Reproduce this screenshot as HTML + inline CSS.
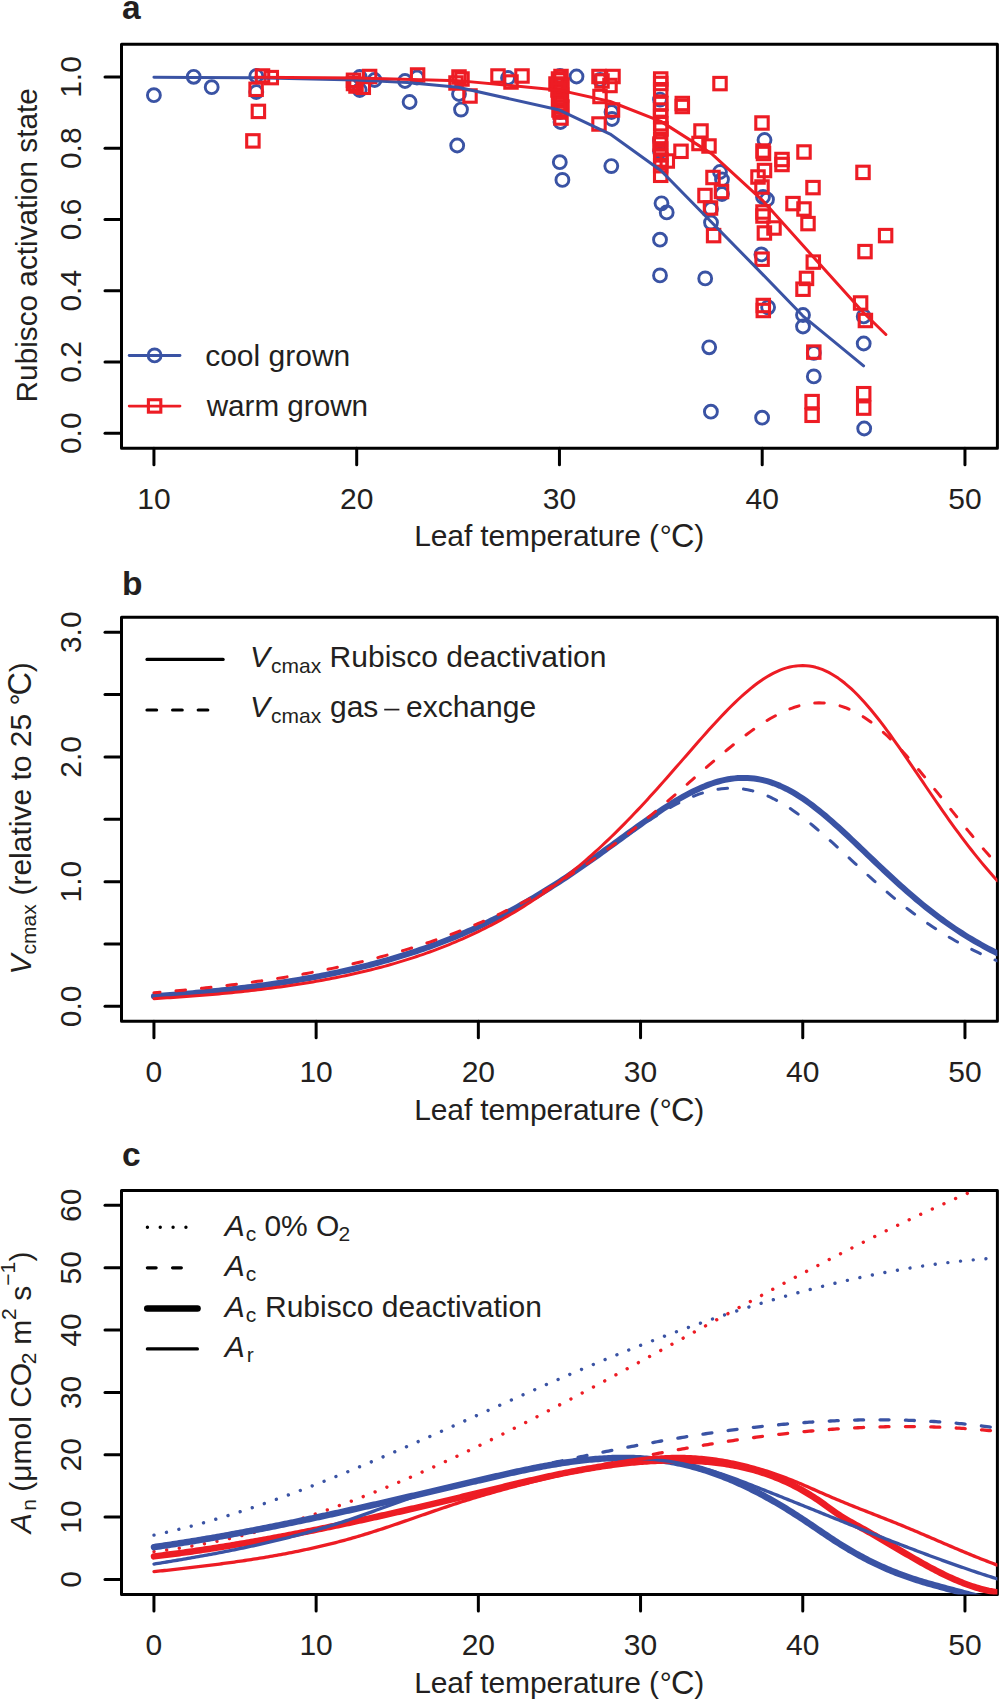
<!DOCTYPE html>
<html><head><meta charset="utf-8"><style>html,body{margin:0;padding:0;background:#fff;}svg{display:block;font-family:"Liberation Sans",sans-serif;}</style></head><body>
<svg width="999" height="1700" viewBox="0 0 999 1700" font-family='&quot;Liberation Sans&quot;, sans-serif'>
<rect width="999" height="1700" fill="#fff"/>
<rect x="121.50" y="44.20" width="875.90" height="404.00" fill="none" stroke="#000" stroke-width="3" stroke-linejoin="round"/>
<line x1="153.94" y1="448.20" x2="153.94" y2="464.70" stroke="#000" stroke-width="3" stroke-linecap="round"/>
<text x="153.94" y="509.20" font-size="30" text-anchor="middle" fill="#231F20" >10</text>
<line x1="356.70" y1="448.20" x2="356.70" y2="464.70" stroke="#000" stroke-width="3" stroke-linecap="round"/>
<text x="356.70" y="509.20" font-size="30" text-anchor="middle" fill="#231F20" >20</text>
<line x1="559.45" y1="448.20" x2="559.45" y2="464.70" stroke="#000" stroke-width="3" stroke-linecap="round"/>
<text x="559.45" y="509.20" font-size="30" text-anchor="middle" fill="#231F20" >30</text>
<line x1="762.20" y1="448.20" x2="762.20" y2="464.70" stroke="#000" stroke-width="3" stroke-linecap="round"/>
<text x="762.20" y="509.20" font-size="30" text-anchor="middle" fill="#231F20" >40</text>
<line x1="964.96" y1="448.20" x2="964.96" y2="464.70" stroke="#000" stroke-width="3" stroke-linecap="round"/>
<text x="964.96" y="509.20" font-size="30" text-anchor="middle" fill="#231F20" >50</text>
<line x1="121.50" y1="433.24" x2="105.00" y2="433.24" stroke="#000" stroke-width="3" stroke-linecap="round"/>
<line x1="121.50" y1="361.98" x2="105.00" y2="361.98" stroke="#000" stroke-width="3" stroke-linecap="round"/>
<line x1="121.50" y1="290.73" x2="105.00" y2="290.73" stroke="#000" stroke-width="3" stroke-linecap="round"/>
<line x1="121.50" y1="219.48" x2="105.00" y2="219.48" stroke="#000" stroke-width="3" stroke-linecap="round"/>
<line x1="121.50" y1="148.23" x2="105.00" y2="148.23" stroke="#000" stroke-width="3" stroke-linecap="round"/>
<line x1="121.50" y1="76.98" x2="105.00" y2="76.98" stroke="#000" stroke-width="3" stroke-linecap="round"/>
<text x="81.00" y="433.24" font-size="30" text-anchor="middle" transform="rotate(-90 81.00 433.24)" fill="#231F20" >0.0</text>
<text x="81.00" y="361.98" font-size="30" text-anchor="middle" transform="rotate(-90 81.00 361.98)" fill="#231F20" >0.2</text>
<text x="81.00" y="290.73" font-size="30" text-anchor="middle" transform="rotate(-90 81.00 290.73)" fill="#231F20" >0.4</text>
<text x="81.00" y="219.48" font-size="30" text-anchor="middle" transform="rotate(-90 81.00 219.48)" fill="#231F20" >0.6</text>
<text x="81.00" y="148.23" font-size="30" text-anchor="middle" transform="rotate(-90 81.00 148.23)" fill="#231F20" >0.8</text>
<text x="81.00" y="76.98" font-size="30" text-anchor="middle" transform="rotate(-90 81.00 76.98)" fill="#231F20" >1.0</text>
<text x="414.20" y="546.40" font-size="30" text-anchor="start" fill="#231F20" textLength="244.8" lengthAdjust="spacing">Leaf temperature (</text>
<text x="659.70" y="546.40" font-size="30" text-anchor="start" fill="#231F20" >°</text>
<text x="671.00" y="547.40" font-size="32.5" text-anchor="start" fill="#231F20" >C</text>
<text x="694.20" y="546.40" font-size="30" text-anchor="start" fill="#231F20" >)</text>
<text x="122.00" y="19.00" font-size="33.5" text-anchor="start" font-weight="bold" fill="#231F20" >a</text>
<text x="37.00" y="245.30" font-size="29.75" text-anchor="middle" transform="rotate(-90 37.00 245.30)" fill="#231F20" >Rubisco activation state</text>
<circle cx="153.90" cy="95.20" r="6.45" fill="none" stroke="#3A53A4" stroke-width="2.9"/>
<circle cx="193.70" cy="76.80" r="6.45" fill="none" stroke="#3A53A4" stroke-width="2.9"/>
<circle cx="211.70" cy="87.20" r="6.45" fill="none" stroke="#3A53A4" stroke-width="2.9"/>
<circle cx="256.30" cy="76.00" r="6.45" fill="none" stroke="#3A53A4" stroke-width="2.9"/>
<circle cx="256.30" cy="92.00" r="6.45" fill="none" stroke="#3A53A4" stroke-width="2.9"/>
<circle cx="417.00" cy="77.50" r="6.45" fill="none" stroke="#3A53A4" stroke-width="2.9"/>
<circle cx="359.70" cy="77.00" r="6.45" fill="none" stroke="#3A53A4" stroke-width="2.9"/>
<circle cx="359.70" cy="90.00" r="6.45" fill="none" stroke="#3A53A4" stroke-width="2.9"/>
<circle cx="374.60" cy="80.00" r="6.45" fill="none" stroke="#3A53A4" stroke-width="2.9"/>
<circle cx="405.00" cy="81.00" r="6.45" fill="none" stroke="#3A53A4" stroke-width="2.9"/>
<circle cx="409.60" cy="102.00" r="6.45" fill="none" stroke="#3A53A4" stroke-width="2.9"/>
<circle cx="459.00" cy="94.00" r="6.45" fill="none" stroke="#3A53A4" stroke-width="2.9"/>
<circle cx="461.00" cy="109.60" r="6.45" fill="none" stroke="#3A53A4" stroke-width="2.9"/>
<circle cx="457.20" cy="145.50" r="6.45" fill="none" stroke="#3A53A4" stroke-width="2.9"/>
<circle cx="508.00" cy="78.00" r="6.45" fill="none" stroke="#3A53A4" stroke-width="2.9"/>
<circle cx="560.00" cy="76.00" r="6.45" fill="none" stroke="#3A53A4" stroke-width="2.9"/>
<circle cx="560.50" cy="122.00" r="6.45" fill="none" stroke="#3A53A4" stroke-width="2.9"/>
<circle cx="559.80" cy="162.20" r="6.45" fill="none" stroke="#3A53A4" stroke-width="2.9"/>
<circle cx="562.40" cy="179.90" r="6.45" fill="none" stroke="#3A53A4" stroke-width="2.9"/>
<circle cx="560.00" cy="100.00" r="6.45" fill="none" stroke="#3A53A4" stroke-width="2.9"/>
<circle cx="560.00" cy="112.00" r="6.45" fill="none" stroke="#3A53A4" stroke-width="2.9"/>
<circle cx="576.50" cy="76.50" r="6.45" fill="none" stroke="#3A53A4" stroke-width="2.9"/>
<circle cx="611.50" cy="112.00" r="6.45" fill="none" stroke="#3A53A4" stroke-width="2.9"/>
<circle cx="612.00" cy="119.00" r="6.45" fill="none" stroke="#3A53A4" stroke-width="2.9"/>
<circle cx="611.30" cy="166.10" r="6.45" fill="none" stroke="#3A53A4" stroke-width="2.9"/>
<circle cx="600.00" cy="80.00" r="6.45" fill="none" stroke="#3A53A4" stroke-width="2.9"/>
<circle cx="660.00" cy="99.60" r="6.45" fill="none" stroke="#3A53A4" stroke-width="2.9"/>
<circle cx="660.00" cy="140.50" r="6.45" fill="none" stroke="#3A53A4" stroke-width="2.9"/>
<circle cx="660.00" cy="151.30" r="6.45" fill="none" stroke="#3A53A4" stroke-width="2.9"/>
<circle cx="661.50" cy="203.30" r="6.45" fill="none" stroke="#3A53A4" stroke-width="2.9"/>
<circle cx="666.70" cy="212.40" r="6.45" fill="none" stroke="#3A53A4" stroke-width="2.9"/>
<circle cx="660.00" cy="239.70" r="6.45" fill="none" stroke="#3A53A4" stroke-width="2.9"/>
<circle cx="660.00" cy="275.40" r="6.45" fill="none" stroke="#3A53A4" stroke-width="2.9"/>
<circle cx="705.20" cy="278.40" r="6.45" fill="none" stroke="#3A53A4" stroke-width="2.9"/>
<circle cx="709.20" cy="347.30" r="6.45" fill="none" stroke="#3A53A4" stroke-width="2.9"/>
<circle cx="710.90" cy="411.70" r="6.45" fill="none" stroke="#3A53A4" stroke-width="2.9"/>
<circle cx="711.00" cy="209.00" r="6.45" fill="none" stroke="#3A53A4" stroke-width="2.9"/>
<circle cx="711.00" cy="222.60" r="6.45" fill="none" stroke="#3A53A4" stroke-width="2.9"/>
<circle cx="720.00" cy="172.00" r="6.45" fill="none" stroke="#3A53A4" stroke-width="2.9"/>
<circle cx="722.00" cy="179.50" r="6.45" fill="none" stroke="#3A53A4" stroke-width="2.9"/>
<circle cx="722.00" cy="194.00" r="6.45" fill="none" stroke="#3A53A4" stroke-width="2.9"/>
<circle cx="764.50" cy="140.00" r="6.45" fill="none" stroke="#3A53A4" stroke-width="2.9"/>
<circle cx="763.00" cy="197.00" r="6.45" fill="none" stroke="#3A53A4" stroke-width="2.9"/>
<circle cx="767.00" cy="199.50" r="6.45" fill="none" stroke="#3A53A4" stroke-width="2.9"/>
<circle cx="761.40" cy="254.40" r="6.45" fill="none" stroke="#3A53A4" stroke-width="2.9"/>
<circle cx="768.10" cy="307.30" r="6.45" fill="none" stroke="#3A53A4" stroke-width="2.9"/>
<circle cx="762.10" cy="417.70" r="6.45" fill="none" stroke="#3A53A4" stroke-width="2.9"/>
<circle cx="803.00" cy="315.00" r="6.45" fill="none" stroke="#3A53A4" stroke-width="2.9"/>
<circle cx="803.00" cy="326.50" r="6.45" fill="none" stroke="#3A53A4" stroke-width="2.9"/>
<circle cx="813.80" cy="352.90" r="6.45" fill="none" stroke="#3A53A4" stroke-width="2.9"/>
<circle cx="813.80" cy="376.40" r="6.45" fill="none" stroke="#3A53A4" stroke-width="2.9"/>
<circle cx="863.70" cy="316.40" r="6.45" fill="none" stroke="#3A53A4" stroke-width="2.9"/>
<circle cx="863.70" cy="343.50" r="6.45" fill="none" stroke="#3A53A4" stroke-width="2.9"/>
<circle cx="864.20" cy="428.50" r="6.45" fill="none" stroke="#3A53A4" stroke-width="2.9"/>
<rect x="246.70" y="134.70" width="12.40" height="12.40" fill="none" stroke="#ED1C24" stroke-width="3.1"/>
<rect x="252.20" y="105.20" width="12.40" height="12.40" fill="none" stroke="#ED1C24" stroke-width="3.1"/>
<rect x="249.90" y="83.10" width="12.40" height="12.40" fill="none" stroke="#ED1C24" stroke-width="3.1"/>
<rect x="256.30" y="69.80" width="12.40" height="12.40" fill="none" stroke="#ED1C24" stroke-width="3.1"/>
<rect x="265.10" y="71.40" width="12.40" height="12.40" fill="none" stroke="#ED1C24" stroke-width="3.1"/>
<rect x="347.30" y="74.10" width="12.40" height="12.40" fill="none" stroke="#ED1C24" stroke-width="3.1"/>
<rect x="347.30" y="77.30" width="12.40" height="12.40" fill="none" stroke="#ED1C24" stroke-width="3.1"/>
<rect x="357.10" y="81.10" width="12.40" height="12.40" fill="none" stroke="#ED1C24" stroke-width="3.1"/>
<rect x="363.40" y="70.30" width="12.40" height="12.40" fill="none" stroke="#ED1C24" stroke-width="3.1"/>
<rect x="349.80" y="79.80" width="12.40" height="12.40" fill="none" stroke="#ED1C24" stroke-width="3.1"/>
<rect x="411.40" y="68.80" width="12.40" height="12.40" fill="none" stroke="#ED1C24" stroke-width="3.1"/>
<rect x="452.80" y="70.80" width="12.40" height="12.40" fill="none" stroke="#ED1C24" stroke-width="3.1"/>
<rect x="449.80" y="76.80" width="12.40" height="12.40" fill="none" stroke="#ED1C24" stroke-width="3.1"/>
<rect x="455.80" y="72.80" width="12.40" height="12.40" fill="none" stroke="#ED1C24" stroke-width="3.1"/>
<rect x="463.80" y="89.80" width="12.40" height="12.40" fill="none" stroke="#ED1C24" stroke-width="3.1"/>
<rect x="491.80" y="69.80" width="12.40" height="12.40" fill="none" stroke="#ED1C24" stroke-width="3.1"/>
<rect x="504.80" y="75.80" width="12.40" height="12.40" fill="none" stroke="#ED1C24" stroke-width="3.1"/>
<rect x="515.80" y="69.80" width="12.40" height="12.40" fill="none" stroke="#ED1C24" stroke-width="3.1"/>
<rect x="554.80" y="70.30" width="12.40" height="12.40" fill="none" stroke="#ED1C24" stroke-width="3.1"/>
<rect x="549.80" y="77.80" width="12.40" height="12.40" fill="none" stroke="#ED1C24" stroke-width="3.1"/>
<rect x="553.80" y="73.80" width="12.40" height="12.40" fill="none" stroke="#ED1C24" stroke-width="3.1"/>
<rect x="553.80" y="81.80" width="12.40" height="12.40" fill="none" stroke="#ED1C24" stroke-width="3.1"/>
<rect x="553.80" y="85.80" width="12.40" height="12.40" fill="none" stroke="#ED1C24" stroke-width="3.1"/>
<rect x="553.80" y="91.80" width="12.40" height="12.40" fill="none" stroke="#ED1C24" stroke-width="3.1"/>
<rect x="553.80" y="97.80" width="12.40" height="12.40" fill="none" stroke="#ED1C24" stroke-width="3.1"/>
<rect x="553.80" y="105.80" width="12.40" height="12.40" fill="none" stroke="#ED1C24" stroke-width="3.1"/>
<rect x="554.80" y="111.80" width="12.40" height="12.40" fill="none" stroke="#ED1C24" stroke-width="3.1"/>
<rect x="592.80" y="70.30" width="12.40" height="12.40" fill="none" stroke="#ED1C24" stroke-width="3.1"/>
<rect x="606.80" y="70.30" width="12.40" height="12.40" fill="none" stroke="#ED1C24" stroke-width="3.1"/>
<rect x="595.80" y="74.80" width="12.40" height="12.40" fill="none" stroke="#ED1C24" stroke-width="3.1"/>
<rect x="603.80" y="79.30" width="12.40" height="12.40" fill="none" stroke="#ED1C24" stroke-width="3.1"/>
<rect x="593.80" y="90.30" width="12.40" height="12.40" fill="none" stroke="#ED1C24" stroke-width="3.1"/>
<rect x="606.30" y="103.80" width="12.40" height="12.40" fill="none" stroke="#ED1C24" stroke-width="3.1"/>
<rect x="592.80" y="117.80" width="12.40" height="12.40" fill="none" stroke="#ED1C24" stroke-width="3.1"/>
<rect x="654.50" y="72.80" width="12.40" height="12.40" fill="none" stroke="#ED1C24" stroke-width="3.1"/>
<rect x="654.50" y="77.30" width="12.40" height="12.40" fill="none" stroke="#ED1C24" stroke-width="3.1"/>
<rect x="654.50" y="83.55" width="12.40" height="12.40" fill="none" stroke="#ED1C24" stroke-width="3.1"/>
<rect x="654.70" y="97.30" width="12.40" height="12.40" fill="none" stroke="#ED1C24" stroke-width="3.1"/>
<rect x="654.50" y="110.30" width="12.40" height="12.40" fill="none" stroke="#ED1C24" stroke-width="3.1"/>
<rect x="654.50" y="117.50" width="12.40" height="12.40" fill="none" stroke="#ED1C24" stroke-width="3.1"/>
<rect x="654.50" y="133.10" width="12.40" height="12.40" fill="none" stroke="#ED1C24" stroke-width="3.1"/>
<rect x="654.50" y="142.70" width="12.40" height="12.40" fill="none" stroke="#ED1C24" stroke-width="3.1"/>
<rect x="654.50" y="148.70" width="12.40" height="12.40" fill="none" stroke="#ED1C24" stroke-width="3.1"/>
<rect x="654.50" y="159.50" width="12.40" height="12.40" fill="none" stroke="#ED1C24" stroke-width="3.1"/>
<rect x="654.50" y="169.10" width="12.40" height="12.40" fill="none" stroke="#ED1C24" stroke-width="3.1"/>
<rect x="676.10" y="97.30" width="12.40" height="12.40" fill="none" stroke="#ED1C24" stroke-width="3.1"/>
<rect x="676.10" y="100.30" width="12.40" height="12.40" fill="none" stroke="#ED1C24" stroke-width="3.1"/>
<rect x="674.80" y="145.10" width="12.40" height="12.40" fill="none" stroke="#ED1C24" stroke-width="3.1"/>
<rect x="661.10" y="154.80" width="12.40" height="12.40" fill="none" stroke="#ED1C24" stroke-width="3.1"/>
<rect x="694.80" y="124.80" width="12.40" height="12.40" fill="none" stroke="#ED1C24" stroke-width="3.1"/>
<rect x="692.80" y="137.30" width="12.40" height="12.40" fill="none" stroke="#ED1C24" stroke-width="3.1"/>
<rect x="702.80" y="139.80" width="12.40" height="12.40" fill="none" stroke="#ED1C24" stroke-width="3.1"/>
<rect x="713.80" y="77.40" width="12.40" height="12.40" fill="none" stroke="#ED1C24" stroke-width="3.1"/>
<rect x="552.30" y="72.80" width="12.40" height="12.40" fill="none" stroke="#ED1C24" stroke-width="3.1"/>
<rect x="555.80" y="78.80" width="12.40" height="12.40" fill="none" stroke="#ED1C24" stroke-width="3.1"/>
<rect x="551.80" y="83.80" width="12.40" height="12.40" fill="none" stroke="#ED1C24" stroke-width="3.1"/>
<rect x="555.30" y="88.80" width="12.40" height="12.40" fill="none" stroke="#ED1C24" stroke-width="3.1"/>
<rect x="552.30" y="94.80" width="12.40" height="12.40" fill="none" stroke="#ED1C24" stroke-width="3.1"/>
<rect x="555.80" y="100.80" width="12.40" height="12.40" fill="none" stroke="#ED1C24" stroke-width="3.1"/>
<rect x="552.80" y="103.80" width="12.40" height="12.40" fill="none" stroke="#ED1C24" stroke-width="3.1"/>
<rect x="654.30" y="103.80" width="12.40" height="12.40" fill="none" stroke="#ED1C24" stroke-width="3.1"/>
<rect x="654.80" y="122.80" width="12.40" height="12.40" fill="none" stroke="#ED1C24" stroke-width="3.1"/>
<rect x="653.80" y="137.80" width="12.40" height="12.40" fill="none" stroke="#ED1C24" stroke-width="3.1"/>
<rect x="654.80" y="153.80" width="12.40" height="12.40" fill="none" stroke="#ED1C24" stroke-width="3.1"/>
<rect x="706.80" y="171.30" width="12.40" height="12.40" fill="none" stroke="#ED1C24" stroke-width="3.1"/>
<rect x="715.30" y="185.30" width="12.40" height="12.40" fill="none" stroke="#ED1C24" stroke-width="3.1"/>
<rect x="698.80" y="189.30" width="12.40" height="12.40" fill="none" stroke="#ED1C24" stroke-width="3.1"/>
<rect x="704.30" y="201.80" width="12.40" height="12.40" fill="none" stroke="#ED1C24" stroke-width="3.1"/>
<rect x="707.40" y="229.40" width="12.40" height="12.40" fill="none" stroke="#ED1C24" stroke-width="3.1"/>
<rect x="755.80" y="116.80" width="12.40" height="12.40" fill="none" stroke="#ED1C24" stroke-width="3.1"/>
<rect x="756.80" y="144.80" width="12.40" height="12.40" fill="none" stroke="#ED1C24" stroke-width="3.1"/>
<rect x="757.30" y="147.30" width="12.40" height="12.40" fill="none" stroke="#ED1C24" stroke-width="3.1"/>
<rect x="758.30" y="164.30" width="12.40" height="12.40" fill="none" stroke="#ED1C24" stroke-width="3.1"/>
<rect x="751.80" y="170.80" width="12.40" height="12.40" fill="none" stroke="#ED1C24" stroke-width="3.1"/>
<rect x="755.80" y="180.80" width="12.40" height="12.40" fill="none" stroke="#ED1C24" stroke-width="3.1"/>
<rect x="756.80" y="205.80" width="12.40" height="12.40" fill="none" stroke="#ED1C24" stroke-width="3.1"/>
<rect x="756.80" y="209.80" width="12.40" height="12.40" fill="none" stroke="#ED1C24" stroke-width="3.1"/>
<rect x="775.80" y="153.30" width="12.40" height="12.40" fill="none" stroke="#ED1C24" stroke-width="3.1"/>
<rect x="775.80" y="158.30" width="12.40" height="12.40" fill="none" stroke="#ED1C24" stroke-width="3.1"/>
<rect x="797.80" y="145.80" width="12.40" height="12.40" fill="none" stroke="#ED1C24" stroke-width="3.1"/>
<rect x="806.80" y="181.40" width="12.40" height="12.40" fill="none" stroke="#ED1C24" stroke-width="3.1"/>
<rect x="786.80" y="197.40" width="12.40" height="12.40" fill="none" stroke="#ED1C24" stroke-width="3.1"/>
<rect x="797.80" y="202.80" width="12.40" height="12.40" fill="none" stroke="#ED1C24" stroke-width="3.1"/>
<rect x="801.80" y="217.40" width="12.40" height="12.40" fill="none" stroke="#ED1C24" stroke-width="3.1"/>
<rect x="767.80" y="221.80" width="12.40" height="12.40" fill="none" stroke="#ED1C24" stroke-width="3.1"/>
<rect x="758.20" y="226.80" width="12.40" height="12.40" fill="none" stroke="#ED1C24" stroke-width="3.1"/>
<rect x="755.90" y="253.00" width="12.40" height="12.40" fill="none" stroke="#ED1C24" stroke-width="3.1"/>
<rect x="757.10" y="299.30" width="12.40" height="12.40" fill="none" stroke="#ED1C24" stroke-width="3.1"/>
<rect x="757.10" y="304.30" width="12.40" height="12.40" fill="none" stroke="#ED1C24" stroke-width="3.1"/>
<rect x="856.80" y="166.20" width="12.40" height="12.40" fill="none" stroke="#ED1C24" stroke-width="3.1"/>
<rect x="879.40" y="229.40" width="12.40" height="12.40" fill="none" stroke="#ED1C24" stroke-width="3.1"/>
<rect x="858.80" y="245.40" width="12.40" height="12.40" fill="none" stroke="#ED1C24" stroke-width="3.1"/>
<rect x="807.10" y="255.90" width="12.40" height="12.40" fill="none" stroke="#ED1C24" stroke-width="3.1"/>
<rect x="800.30" y="272.20" width="12.40" height="12.40" fill="none" stroke="#ED1C24" stroke-width="3.1"/>
<rect x="796.80" y="283.00" width="12.40" height="12.40" fill="none" stroke="#ED1C24" stroke-width="3.1"/>
<rect x="854.40" y="296.80" width="12.40" height="12.40" fill="none" stroke="#ED1C24" stroke-width="3.1"/>
<rect x="859.20" y="314.30" width="12.40" height="12.40" fill="none" stroke="#ED1C24" stroke-width="3.1"/>
<rect x="807.60" y="345.90" width="12.40" height="12.40" fill="none" stroke="#ED1C24" stroke-width="3.1"/>
<rect x="805.90" y="395.40" width="12.40" height="12.40" fill="none" stroke="#ED1C24" stroke-width="3.1"/>
<rect x="805.90" y="409.10" width="12.40" height="12.40" fill="none" stroke="#ED1C24" stroke-width="3.1"/>
<rect x="857.50" y="387.50" width="12.40" height="12.40" fill="none" stroke="#ED1C24" stroke-width="3.1"/>
<rect x="857.50" y="401.90" width="12.40" height="12.40" fill="none" stroke="#ED1C24" stroke-width="3.1"/>
<polyline points="153.94,77.23 194.49,77.39 255.32,77.85 356.70,79.98 407.38,82.53 458.07,87.18 559.45,110.08 610.14,134.09 660.83,170.47 762.20,273.89 802.76,315.79 863.58,365.91" fill="none" stroke="#3A53A4" stroke-width="3.00" stroke-linejoin="round" stroke-linecap="round" />
<polyline points="255.32,77.24 356.70,77.97 458.07,80.63 559.45,90.16 610.14,101.51 660.83,121.38 711.52,153.62 762.20,200.03 812.89,256.51 863.58,312.70 885.88,334.52" fill="none" stroke="#ED1C24" stroke-width="3.00" stroke-linejoin="round" stroke-linecap="round" />
<line x1="129.2" y1="355.5" x2="180" y2="355.5" stroke="#3A53A4" stroke-width="2.8" stroke-linecap="round"/>
<circle cx="154.6" cy="355.4" r="6.45" fill="none" stroke="#3A53A4" stroke-width="2.9"/>
<line x1="129.2" y1="406.1" x2="180" y2="406.1" stroke="#ED1C24" stroke-width="2.8" stroke-linecap="round"/>
<rect x="148.40" y="399.75" width="12.40" height="12.40" fill="none" stroke="#ED1C24" stroke-width="3.1"/>
<text x="205.20" y="366.00" font-size="30" text-anchor="start" fill="#231F20" >cool grown</text>
<text x="206.70" y="416.10" font-size="29.65" text-anchor="start" fill="#231F20" >warm grown</text>
<rect x="121.50" y="617.30" width="875.90" height="404.00" fill="none" stroke="#000" stroke-width="3" stroke-linejoin="round"/>
<line x1="153.94" y1="1021.30" x2="153.94" y2="1037.80" stroke="#000" stroke-width="3" stroke-linecap="round"/>
<text x="153.94" y="1082.30" font-size="30" text-anchor="middle" fill="#231F20" >0</text>
<line x1="316.14" y1="1021.30" x2="316.14" y2="1037.80" stroke="#000" stroke-width="3" stroke-linecap="round"/>
<text x="316.14" y="1082.30" font-size="30" text-anchor="middle" fill="#231F20" >10</text>
<line x1="478.35" y1="1021.30" x2="478.35" y2="1037.80" stroke="#000" stroke-width="3" stroke-linecap="round"/>
<text x="478.35" y="1082.30" font-size="30" text-anchor="middle" fill="#231F20" >20</text>
<line x1="640.55" y1="1021.30" x2="640.55" y2="1037.80" stroke="#000" stroke-width="3" stroke-linecap="round"/>
<text x="640.55" y="1082.30" font-size="30" text-anchor="middle" fill="#231F20" >30</text>
<line x1="802.76" y1="1021.30" x2="802.76" y2="1037.80" stroke="#000" stroke-width="3" stroke-linecap="round"/>
<text x="802.76" y="1082.30" font-size="30" text-anchor="middle" fill="#231F20" >40</text>
<line x1="964.96" y1="1021.30" x2="964.96" y2="1037.80" stroke="#000" stroke-width="3" stroke-linecap="round"/>
<text x="964.96" y="1082.30" font-size="30" text-anchor="middle" fill="#231F20" >50</text>
<line x1="121.50" y1="1006.34" x2="105.00" y2="1006.34" stroke="#000" stroke-width="3" stroke-linecap="round"/>
<line x1="121.50" y1="943.99" x2="105.00" y2="943.99" stroke="#000" stroke-width="3" stroke-linecap="round"/>
<line x1="121.50" y1="881.65" x2="105.00" y2="881.65" stroke="#000" stroke-width="3" stroke-linecap="round"/>
<line x1="121.50" y1="819.30" x2="105.00" y2="819.30" stroke="#000" stroke-width="3" stroke-linecap="round"/>
<line x1="121.50" y1="756.95" x2="105.00" y2="756.95" stroke="#000" stroke-width="3" stroke-linecap="round"/>
<line x1="121.50" y1="694.61" x2="105.00" y2="694.61" stroke="#000" stroke-width="3" stroke-linecap="round"/>
<line x1="121.50" y1="632.26" x2="105.00" y2="632.26" stroke="#000" stroke-width="3" stroke-linecap="round"/>
<text x="81.00" y="1006.34" font-size="30" text-anchor="middle" transform="rotate(-90 81.00 1006.34)" fill="#231F20" >0.0</text>
<text x="81.00" y="881.65" font-size="30" text-anchor="middle" transform="rotate(-90 81.00 881.65)" fill="#231F20" >1.0</text>
<text x="81.00" y="756.95" font-size="30" text-anchor="middle" transform="rotate(-90 81.00 756.95)" fill="#231F20" >2.0</text>
<text x="81.00" y="632.26" font-size="30" text-anchor="middle" transform="rotate(-90 81.00 632.26)" fill="#231F20" >3.0</text>
<text x="414.20" y="1119.50" font-size="30" text-anchor="start" fill="#231F20" textLength="244.8" lengthAdjust="spacing">Leaf temperature (</text>
<text x="659.70" y="1119.50" font-size="30" text-anchor="start" fill="#231F20" >°</text>
<text x="671.00" y="1120.50" font-size="32.5" text-anchor="start" fill="#231F20" >C</text>
<text x="694.20" y="1119.50" font-size="30" text-anchor="start" fill="#231F20" >)</text>
<text x="122.00" y="595.00" font-size="33.5" text-anchor="start" font-weight="bold" fill="#231F20" >b</text>
<clipPath id="cb"><rect x="121.50" y="617.30" width="875.90" height="404.00"/></clipPath>
<polyline points="153.94,996.20 157.18,995.97 160.43,995.74 163.67,995.50 166.92,995.26 170.16,995.01 173.41,994.76 176.65,994.50 179.89,994.24 183.14,993.97 186.38,993.70 189.63,993.42 192.87,993.13 196.11,992.84 199.36,992.54 202.60,992.24 205.85,991.93 209.09,991.61 212.33,991.29 215.58,990.96 218.82,990.62 222.07,990.28 225.31,989.93 228.55,989.58 231.80,989.21 235.04,988.84 238.29,988.46 241.53,988.07 244.77,987.68 248.02,987.28 251.26,986.87 254.51,986.45 257.75,986.02 261.00,985.59 264.24,985.14 267.48,984.69 270.73,984.23 273.97,983.76 277.22,983.28 280.46,982.79 283.70,982.29 286.95,981.78 290.19,981.26 293.44,980.73 296.68,980.19 299.92,979.64 303.17,979.08 306.41,978.51 309.66,977.93 312.90,977.33 316.14,976.73 319.39,976.11 322.63,975.48 325.88,974.84 329.12,974.18 332.36,973.52 335.61,972.84 338.85,972.15 342.10,971.44 345.34,970.72 348.59,969.99 351.83,969.25 355.07,968.49 358.32,967.71 361.56,966.92 364.81,966.12 368.05,965.30 371.29,964.47 374.54,963.62 377.78,962.75 381.03,961.87 384.27,960.98 387.51,960.06 390.76,959.13 394.00,958.18 397.25,957.22 400.49,956.24 403.73,955.24 406.98,954.22 410.22,953.18 413.47,952.13 416.71,951.05 419.95,949.96 423.20,948.85 426.44,947.72 429.69,946.56 432.93,945.39 436.18,944.20 439.42,942.98 442.66,941.75 445.91,940.49 449.15,939.22 452.40,937.92 455.64,936.60 458.88,935.25 462.13,933.89 465.37,932.50 468.62,931.09 471.86,929.65 475.10,928.19 478.35,926.71 481.59,925.21 484.84,923.68 488.08,922.12 491.32,920.54 494.57,918.94 497.81,917.31 501.06,915.66 504.30,913.98 507.54,912.28 510.79,910.55 514.03,908.80 517.28,907.02 520.52,905.22 523.77,903.39 527.01,901.54 530.25,899.66 533.50,897.75 536.74,895.83 539.99,893.87 543.23,891.89 546.47,889.89 549.72,887.87 552.96,885.82 556.21,883.74 559.45,881.65 562.69,879.53 565.94,877.39 569.18,875.22 572.43,873.04 575.67,870.84 578.91,868.62 582.16,866.38 585.40,864.12 588.65,861.85 591.89,859.56 595.13,857.26 598.38,854.94 601.62,852.62 604.87,850.28 608.11,847.93 611.36,845.58 614.60,843.23 617.84,840.87 621.09,838.51 624.33,836.15 627.58,833.79 630.82,831.44 634.06,829.10 637.31,826.76 640.55,824.44 643.80,822.14 647.04,819.86 650.28,817.59 653.53,815.35 656.77,813.15 660.02,810.97 663.26,808.83 666.50,806.72 669.75,804.66 672.99,802.65 676.24,800.68 679.48,798.77 682.72,796.92 685.97,795.13 689.21,793.40 692.46,791.75 695.70,790.16 698.95,788.66 702.19,787.24 705.43,785.90 708.68,784.66 711.92,783.51 715.17,782.46 718.41,781.50 721.65,780.66 724.90,779.92 728.14,779.29 731.39,778.77 734.63,778.38 737.87,778.10 741.12,777.94 744.36,777.91 747.61,778.00 750.85,778.22 754.09,778.56 757.34,779.03 760.58,779.63 763.83,780.36 767.07,781.22 770.31,782.20 773.56,783.31 776.80,784.54 780.05,785.89 783.29,787.37 786.54,788.96 789.78,790.67 793.02,792.49 796.27,794.41 799.51,796.44 802.76,798.58 806.00,800.80 809.24,803.12 812.49,805.53 815.73,808.01 818.98,810.58 822.22,813.22 825.46,815.92 828.71,818.69 831.95,821.51 835.20,824.38 838.44,827.30 841.68,830.26 844.93,833.26 848.17,836.28 851.42,839.34 854.66,842.41 857.90,845.50 861.15,848.60 864.39,851.70 867.64,854.81 870.88,857.92 874.13,861.02 877.37,864.11 880.61,867.19 883.86,870.25 887.10,873.30 890.35,876.31 893.59,879.31 896.83,882.27 900.08,885.21 903.32,888.11 906.57,890.98 909.81,893.81 913.05,896.60 916.30,899.35 919.54,902.06 922.79,904.72 926.03,907.34 929.27,909.92 932.52,912.45 935.76,914.94 939.01,917.38 942.25,919.77 945.49,922.11 948.74,924.41 951.98,926.66 955.23,928.86 958.47,931.01 961.72,933.11 964.96,935.17 968.20,937.18 971.45,939.15 974.69,941.06 977.94,942.93 981.18,944.76 984.42,946.54 987.67,948.28 990.91,949.97 994.16,951.62 997.40,953.23" fill="none" stroke="#3A53A4" stroke-width="6.00" stroke-linejoin="round" stroke-linecap="round" clip-path="url(#cb)"/>
<polyline points="153.94,995.74 157.18,995.51 160.43,995.27 163.67,995.03 166.92,994.78 170.16,994.53 173.41,994.27 176.65,994.01 179.89,993.74 183.14,993.46 186.38,993.18 189.63,992.90 192.87,992.61 196.11,992.31 199.36,992.01 202.60,991.70 205.85,991.38 209.09,991.06 212.33,990.73 215.58,990.40 218.82,990.06 222.07,989.71 225.31,989.35 228.55,988.99 231.80,988.62 235.04,988.25 238.29,987.86 241.53,987.47 244.77,987.07 248.02,986.67 251.26,986.25 254.51,985.83 257.75,985.40 261.00,984.96 264.24,984.51 267.48,984.05 270.73,983.58 273.97,983.11 277.22,982.63 280.46,982.13 283.70,981.63 286.95,981.12 290.19,980.59 293.44,980.06 296.68,979.52 299.92,978.96 303.17,978.40 306.41,977.82 309.66,977.24 312.90,976.64 316.14,976.03 319.39,975.41 322.63,974.78 325.88,974.14 329.12,973.48 332.36,972.82 335.61,972.14 338.85,971.44 342.10,970.74 345.34,970.02 348.59,969.29 351.83,968.54 355.07,967.78 358.32,967.01 361.56,966.22 364.81,965.41 368.05,964.60 371.29,963.76 374.54,962.92 377.78,962.05 381.03,961.17 384.27,960.28 387.51,959.37 390.76,958.44 394.00,957.50 397.25,956.53 400.49,955.56 403.73,954.56 406.98,953.55 410.22,952.51 413.47,951.46 416.71,950.39 419.95,949.31 423.20,948.20 426.44,947.07 429.69,945.93 432.93,944.76 436.18,943.58 439.42,942.37 442.66,941.15 445.91,939.90 449.15,938.63 452.40,937.34 455.64,936.03 458.88,934.69 462.13,933.34 465.37,931.96 468.62,930.56 471.86,929.14 475.10,927.69 478.35,926.22 481.59,924.73 484.84,923.21 488.08,921.67 491.32,920.11 494.57,918.52 497.81,916.90 501.06,915.27 504.30,913.61 507.54,911.92 510.79,910.21 514.03,908.47 517.28,906.71 520.52,904.93 523.77,903.12 527.01,901.29 530.25,899.43 533.50,897.55 536.74,895.64 539.99,893.71 543.23,891.76 546.47,889.78 549.72,887.78 552.96,885.76 556.21,883.71 559.45,881.65 562.69,879.56 565.94,877.45 569.18,875.32 572.43,873.18 575.67,871.01 578.91,868.83 582.16,866.63 585.40,864.42 588.65,862.19 591.89,859.95 595.13,857.70 598.38,855.44 601.62,853.18 604.87,850.90 608.11,848.62 611.36,846.34 614.60,844.06 617.84,841.78 621.09,839.50 624.33,837.23 627.58,834.97 630.82,832.72 634.06,830.49 637.31,828.27 640.55,826.07 643.80,823.90 647.04,821.75 650.28,819.63 653.53,817.55 656.77,815.51 660.02,813.50 663.26,811.55 666.50,809.64 669.75,807.79 672.99,805.99 676.24,804.25 679.48,802.58 682.72,800.99 685.97,799.46 689.21,798.02 692.46,796.66 695.70,795.38 698.95,794.20 702.19,793.11 705.43,792.12 708.68,791.24 711.92,790.46 715.17,789.79 718.41,789.23 721.65,788.79 724.90,788.47 728.14,788.28 731.39,788.20 734.63,788.25 737.87,788.43 741.12,788.73 744.36,789.16 747.61,789.73 750.85,790.42 754.09,791.24 757.34,792.19 760.58,793.26 763.83,794.46 767.07,795.78 770.31,797.22 773.56,798.78 776.80,800.46 780.05,802.25 783.29,804.14 786.54,806.14 789.78,808.23 793.02,810.42 796.27,812.70 799.51,815.07 802.76,817.52 806.00,820.04 809.24,822.63 812.49,825.28 815.73,827.99 818.98,830.75 822.22,833.56 825.46,836.41 828.71,839.30 831.95,842.22 835.20,845.17 838.44,848.13 841.68,851.11 844.93,854.11 848.17,857.10 851.42,860.10 854.66,863.10 857.90,866.09 861.15,869.07 864.39,872.04 867.64,874.99 870.88,877.91 874.13,880.82 877.37,883.70 880.61,886.54 883.86,889.36 887.10,892.14 890.35,894.89 893.59,897.60 896.83,900.27 900.08,902.90 903.32,905.48 906.57,908.03 909.81,910.53 913.05,912.98 916.30,915.39 919.54,917.76 922.79,920.07 926.03,922.35 929.27,924.57 932.52,926.75 935.76,928.88 939.01,930.96 942.25,933.00 945.49,934.99 948.74,936.93 951.98,938.83 955.23,940.68 958.47,942.49 961.72,944.26 964.96,945.98 968.20,947.66 971.45,949.29 974.69,950.89 977.94,952.44 981.18,953.95 984.42,955.43 987.67,956.86 990.91,958.26 994.16,959.62 997.40,960.94" fill="none" stroke="#3A53A4" stroke-width="3.00" stroke-linejoin="round" stroke-linecap="round" clip-path="url(#cb)" stroke-dasharray="9.6 16" stroke-dashoffset="3.5"/>
<polyline points="153.94,998.65 157.18,998.46 160.43,998.27 163.67,998.07 166.92,997.87 170.16,997.66 173.41,997.45 176.65,997.23 179.89,997.00 183.14,996.78 186.38,996.54 189.63,996.30 192.87,996.06 196.11,995.81 199.36,995.55 202.60,995.29 205.85,995.03 209.09,994.75 212.33,994.47 215.58,994.19 218.82,993.89 222.07,993.60 225.31,993.29 228.55,992.98 231.80,992.66 235.04,992.33 238.29,992.00 241.53,991.65 244.77,991.31 248.02,990.95 251.26,990.58 254.51,990.21 257.75,989.83 261.00,989.44 264.24,989.04 267.48,988.63 270.73,988.22 273.97,987.79 277.22,987.36 280.46,986.91 283.70,986.46 286.95,986.00 290.19,985.52 293.44,985.04 296.68,984.54 299.92,984.04 303.17,983.52 306.41,982.99 309.66,982.46 312.90,981.90 316.14,981.34 319.39,980.77 322.63,980.18 325.88,979.58 329.12,978.97 332.36,978.34 335.61,977.70 338.85,977.05 342.10,976.38 345.34,975.70 348.59,975.01 351.83,974.30 355.07,973.57 358.32,972.83 361.56,972.08 364.81,971.31 368.05,970.52 371.29,969.71 374.54,968.89 377.78,968.06 381.03,967.20 384.27,966.33 387.51,965.43 390.76,964.52 394.00,963.60 397.25,962.65 400.49,961.68 403.73,960.69 406.98,959.68 410.22,958.66 413.47,957.61 416.71,956.54 419.95,955.44 423.20,954.33 426.44,953.19 429.69,952.03 432.93,950.85 436.18,949.64 439.42,948.41 442.66,947.15 445.91,945.87 449.15,944.56 452.40,943.23 455.64,941.87 458.88,940.49 462.13,939.07 465.37,937.63 468.62,936.16 471.86,934.66 475.10,933.14 478.35,931.58 481.59,929.99 484.84,928.37 488.08,926.73 491.32,925.05 494.57,923.33 497.81,921.59 501.06,919.81 504.30,918.00 507.54,916.16 510.79,914.28 514.03,912.36 517.28,910.41 520.52,908.43 523.77,906.40 527.01,904.35 530.25,902.25 533.50,900.12 536.74,897.95 539.99,895.74 543.23,893.49 546.47,891.20 549.72,888.87 552.96,886.50 556.21,884.09 559.45,881.65 562.69,879.16 565.94,876.62 569.18,874.05 572.43,871.44 575.67,868.78 578.91,866.08 582.16,863.34 585.40,860.56 588.65,857.73 591.89,854.86 595.13,851.95 598.38,849.00 601.62,846.00 604.87,842.96 608.11,839.89 611.36,836.77 614.60,833.60 617.84,830.40 621.09,827.16 624.33,823.88 627.58,820.56 630.82,817.21 634.06,813.82 637.31,810.39 640.55,806.93 643.80,803.43 647.04,799.91 650.28,796.35 653.53,792.77 656.77,789.16 660.02,785.53 663.26,781.87 666.50,778.20 669.75,774.51 672.99,770.80 676.24,767.09 679.48,763.36 682.72,759.63 685.97,755.90 689.21,752.18 692.46,748.46 695.70,744.75 698.95,741.05 702.19,737.38 705.43,733.72 708.68,730.10 711.92,726.52 715.17,722.97 718.41,719.47 721.65,716.02 724.90,712.63 728.14,709.30 731.39,706.04 734.63,702.86 737.87,699.76 741.12,696.75 744.36,693.84 747.61,691.03 750.85,688.33 754.09,685.75 757.34,683.29 760.58,680.97 763.83,678.78 767.07,676.74 770.31,674.85 773.56,673.12 776.80,671.55 780.05,670.15 783.29,668.93 786.54,667.89 789.78,667.04 793.02,666.37 796.27,665.90 799.51,665.63 802.76,665.56 806.00,665.69 809.24,666.03 812.49,666.57 815.73,667.33 818.98,668.29 822.22,669.46 825.46,670.83 828.71,672.41 831.95,674.20 835.20,676.18 838.44,678.36 841.68,680.73 844.93,683.29 848.17,686.03 851.42,688.94 854.66,692.03 857.90,695.27 861.15,698.68 864.39,702.23 867.64,705.92 870.88,709.75 874.13,713.69 877.37,717.76 880.61,721.93 883.86,726.20 887.10,730.56 890.35,735.00 893.59,739.51 896.83,744.08 900.08,748.71 903.32,753.39 906.57,758.10 909.81,762.84 913.05,767.61 916.30,772.39 919.54,777.18 922.79,781.96 926.03,786.74 929.27,791.51 932.52,796.26 935.76,800.98 939.01,805.67 942.25,810.33 945.49,814.95 948.74,819.52 951.98,824.05 955.23,828.52 958.47,832.94 961.72,837.30 964.96,841.60 968.20,845.83 971.45,850.00 974.69,854.10 977.94,858.13 981.18,862.09 984.42,865.98 987.67,869.79 990.91,873.53 994.16,877.19 997.40,880.78" fill="none" stroke="#ED1C24" stroke-width="3.00" stroke-linejoin="round" stroke-linecap="round" clip-path="url(#cb)"/>
<polyline points="153.94,992.72 157.18,992.45 160.43,992.18 163.67,991.90 166.92,991.62 170.16,991.34 173.41,991.05 176.65,990.75 179.89,990.45 183.14,990.14 186.38,989.83 189.63,989.51 192.87,989.18 196.11,988.85 199.36,988.52 202.60,988.18 205.85,987.83 209.09,987.48 212.33,987.12 215.58,986.75 218.82,986.38 222.07,986.00 225.31,985.61 228.55,985.22 231.80,984.82 235.04,984.41 238.29,984.00 241.53,983.58 244.77,983.15 248.02,982.71 251.26,982.27 254.51,981.82 257.75,981.36 261.00,980.90 264.24,980.42 267.48,979.94 270.73,979.45 273.97,978.95 277.22,978.44 280.46,977.92 283.70,977.40 286.95,976.86 290.19,976.32 293.44,975.77 296.68,975.21 299.92,974.64 303.17,974.05 306.41,973.46 309.66,972.86 312.90,972.25 316.14,971.63 319.39,971.00 322.63,970.36 325.88,969.70 329.12,969.04 332.36,968.37 335.61,967.68 338.85,966.98 342.10,966.27 345.34,965.55 348.59,964.82 351.83,964.08 355.07,963.32 358.32,962.55 361.56,961.77 364.81,960.97 368.05,960.16 371.29,959.34 374.54,958.51 377.78,957.66 381.03,956.80 384.27,955.92 387.51,955.03 390.76,954.13 394.00,953.21 397.25,952.28 400.49,951.33 403.73,950.37 406.98,949.39 410.22,948.39 413.47,947.38 416.71,946.36 419.95,945.31 423.20,944.25 426.44,943.18 429.69,942.08 432.93,940.97 436.18,939.84 439.42,938.70 442.66,937.54 445.91,936.35 449.15,935.15 452.40,933.94 455.64,932.70 458.88,931.44 462.13,930.16 465.37,928.87 468.62,927.55 471.86,926.22 475.10,924.86 478.35,923.48 481.59,922.09 484.84,920.67 488.08,919.23 491.32,917.77 494.57,916.28 497.81,914.78 501.06,913.25 504.30,911.70 507.54,910.12 510.79,908.53 514.03,906.91 517.28,905.26 520.52,903.60 523.77,901.90 527.01,900.19 530.25,898.45 533.50,896.68 536.74,894.89 539.99,893.08 543.23,891.24 546.47,889.37 549.72,887.48 552.96,885.56 556.21,883.62 559.45,881.65 562.69,879.65 565.94,877.63 569.18,875.58 572.43,873.50 575.67,871.40 578.91,869.27 582.16,867.11 585.40,864.93 588.65,862.71 591.89,860.48 595.13,858.21 598.38,855.92 601.62,853.60 604.87,851.26 608.11,848.89 611.36,846.49 614.60,844.06 617.84,841.62 621.09,839.14 624.33,836.64 627.58,834.12 630.82,831.57 634.06,828.99 637.31,826.40 640.55,823.78 643.80,821.14 647.04,818.48 650.28,815.80 653.53,813.10 656.77,810.38 660.02,807.64 663.26,804.89 666.50,802.12 669.75,799.34 672.99,796.54 676.24,793.74 679.48,790.92 682.72,788.10 685.97,785.27 689.21,782.44 692.46,779.60 695.70,776.77 698.95,773.94 702.19,771.11 705.43,768.29 708.68,765.48 711.92,762.69 715.17,759.91 718.41,757.15 721.65,754.41 724.90,751.69 728.14,749.01 731.39,746.36 734.63,743.74 737.87,741.17 741.12,738.64 744.36,736.15 747.61,733.72 750.85,731.35 754.09,729.04 757.34,726.79 760.58,724.62 763.83,722.52 767.07,720.50 770.31,718.56 773.56,716.72 776.80,714.96 780.05,713.31 783.29,711.76 786.54,710.32 789.78,709.00 793.02,707.79 796.27,706.70 799.51,705.74 802.76,704.91 806.00,704.22 809.24,703.66 812.49,703.25 815.73,702.98 818.98,702.86 822.22,702.89 825.46,703.07 828.71,703.41 831.95,703.91 835.20,704.56 838.44,705.37 841.68,706.34 844.93,707.47 848.17,708.76 851.42,710.20 854.66,711.80 857.90,713.55 861.15,715.46 864.39,717.51 867.64,719.71 870.88,722.05 874.13,724.53 877.37,727.15 880.61,729.89 883.86,732.76 887.10,735.74 890.35,738.84 893.59,742.05 896.83,745.36 900.08,748.76 903.32,752.26 906.57,755.83 909.81,759.48 913.05,763.20 916.30,766.99 919.54,770.83 922.79,774.71 926.03,778.64 929.27,782.61 932.52,786.61 935.76,790.63 939.01,794.67 942.25,798.72 945.49,802.77 948.74,806.83 951.98,810.88 955.23,814.92 958.47,818.95 961.72,822.95 964.96,826.94 968.20,830.89 971.45,834.82 974.69,838.70 977.94,842.55 981.18,846.36 984.42,850.13 987.67,853.84 990.91,857.51 994.16,861.13 997.40,864.69" fill="none" stroke="#ED1C24" stroke-width="3.00" stroke-linejoin="round" stroke-linecap="round" clip-path="url(#cb)" stroke-dasharray="9.6 16" stroke-dashoffset="3.5"/>
<line x1="147.0" y1="659.4" x2="223.1" y2="659.4" stroke="#000" stroke-width="3.2" stroke-linecap="round"/>
<line x1="147.00" y1="710" x2="156.60" y2="710" stroke="#000" stroke-width="3.2" stroke-linecap="round"/>
<line x1="172.60" y1="710" x2="182.20" y2="710" stroke="#000" stroke-width="3.2" stroke-linecap="round"/>
<line x1="198.20" y1="710" x2="207.80" y2="710" stroke="#000" stroke-width="3.2" stroke-linecap="round"/>
<text x="250.00" y="667.00" font-size="30" text-anchor="start" font-style="italic" fill="#231F20" >V</text>
<text x="271.00" y="672.60" font-size="21" text-anchor="start" fill="#231F20" >cmax</text>
<text x="250.00" y="717.00" font-size="30" text-anchor="start" font-style="italic" fill="#231F20" >V</text>
<text x="271.00" y="722.60" font-size="21" text-anchor="start" fill="#231F20" >cmax</text>
<text x="329.60" y="667.00" font-size="30" text-anchor="start" fill="#231F20" >Rubisco deactivation</text>
<text x="330.00" y="717.00" font-size="30" text-anchor="start" fill="#231F20" >gas</text>
<line x1="384.2" y1="709.6" x2="399.4" y2="709.6" stroke="#231F20" stroke-width="1.7"/>
<text x="406.00" y="717.00" font-size="30" text-anchor="start" fill="#231F20" >exchange</text>
<text x="30.80" y="974.60" font-size="30" text-anchor="start" font-style="italic" transform="rotate(-90 30.80 974.60)" fill="#231F20" >V</text>
<text x="36.30" y="954.40" font-size="21" text-anchor="start" transform="rotate(-90 36.30 954.40)" fill="#231F20" >cmax</text>
<text x="30.80" y="895.60" font-size="30" text-anchor="start" transform="rotate(-90 30.80 895.60)" fill="#231F20" >(relative to 25 °</text>
<text x="30.80" y="695.40" font-size="32.5" text-anchor="start" transform="rotate(-90 30.80 695.40)" fill="#231F20" >C</text>
<text x="30.80" y="672.30" font-size="30" text-anchor="start" transform="rotate(-90 30.80 672.30)" fill="#231F20" >)</text>
<rect x="121.50" y="1190.40" width="875.90" height="404.00" fill="none" stroke="#000" stroke-width="3" stroke-linejoin="round"/>
<line x1="153.94" y1="1594.40" x2="153.94" y2="1610.90" stroke="#000" stroke-width="3" stroke-linecap="round"/>
<text x="153.94" y="1655.40" font-size="30" text-anchor="middle" fill="#231F20" >0</text>
<line x1="316.14" y1="1594.40" x2="316.14" y2="1610.90" stroke="#000" stroke-width="3" stroke-linecap="round"/>
<text x="316.14" y="1655.40" font-size="30" text-anchor="middle" fill="#231F20" >10</text>
<line x1="478.35" y1="1594.40" x2="478.35" y2="1610.90" stroke="#000" stroke-width="3" stroke-linecap="round"/>
<text x="478.35" y="1655.40" font-size="30" text-anchor="middle" fill="#231F20" >20</text>
<line x1="640.55" y1="1594.40" x2="640.55" y2="1610.90" stroke="#000" stroke-width="3" stroke-linecap="round"/>
<text x="640.55" y="1655.40" font-size="30" text-anchor="middle" fill="#231F20" >30</text>
<line x1="802.76" y1="1594.40" x2="802.76" y2="1610.90" stroke="#000" stroke-width="3" stroke-linecap="round"/>
<text x="802.76" y="1655.40" font-size="30" text-anchor="middle" fill="#231F20" >40</text>
<line x1="964.96" y1="1594.40" x2="964.96" y2="1610.90" stroke="#000" stroke-width="3" stroke-linecap="round"/>
<text x="964.96" y="1655.40" font-size="30" text-anchor="middle" fill="#231F20" >50</text>
<line x1="121.50" y1="1579.44" x2="105.00" y2="1579.44" stroke="#000" stroke-width="3" stroke-linecap="round"/>
<line x1="121.50" y1="1517.09" x2="105.00" y2="1517.09" stroke="#000" stroke-width="3" stroke-linecap="round"/>
<line x1="121.50" y1="1454.75" x2="105.00" y2="1454.75" stroke="#000" stroke-width="3" stroke-linecap="round"/>
<line x1="121.50" y1="1392.40" x2="105.00" y2="1392.40" stroke="#000" stroke-width="3" stroke-linecap="round"/>
<line x1="121.50" y1="1330.05" x2="105.00" y2="1330.05" stroke="#000" stroke-width="3" stroke-linecap="round"/>
<line x1="121.50" y1="1267.71" x2="105.00" y2="1267.71" stroke="#000" stroke-width="3" stroke-linecap="round"/>
<line x1="121.50" y1="1205.36" x2="105.00" y2="1205.36" stroke="#000" stroke-width="3" stroke-linecap="round"/>
<text x="81.00" y="1579.44" font-size="30" text-anchor="middle" transform="rotate(-90 81.00 1579.44)" fill="#231F20" >0</text>
<text x="81.00" y="1517.09" font-size="30" text-anchor="middle" transform="rotate(-90 81.00 1517.09)" fill="#231F20" >10</text>
<text x="81.00" y="1454.75" font-size="30" text-anchor="middle" transform="rotate(-90 81.00 1454.75)" fill="#231F20" >20</text>
<text x="81.00" y="1392.40" font-size="30" text-anchor="middle" transform="rotate(-90 81.00 1392.40)" fill="#231F20" >30</text>
<text x="81.00" y="1330.05" font-size="30" text-anchor="middle" transform="rotate(-90 81.00 1330.05)" fill="#231F20" >40</text>
<text x="81.00" y="1267.71" font-size="30" text-anchor="middle" transform="rotate(-90 81.00 1267.71)" fill="#231F20" >50</text>
<text x="81.00" y="1205.36" font-size="30" text-anchor="middle" transform="rotate(-90 81.00 1205.36)" fill="#231F20" >60</text>
<text x="414.20" y="1692.60" font-size="30" text-anchor="start" fill="#231F20" textLength="244.8" lengthAdjust="spacing">Leaf temperature (</text>
<text x="659.70" y="1692.60" font-size="30" text-anchor="start" fill="#231F20" >°</text>
<text x="671.00" y="1693.60" font-size="32.5" text-anchor="start" fill="#231F20" >C</text>
<text x="694.20" y="1692.60" font-size="30" text-anchor="start" fill="#231F20" >)</text>
<text x="122.00" y="1165.50" font-size="33.5" text-anchor="start" font-weight="bold" fill="#231F20" >c</text>
<clipPath id="cc"><rect x="121.50" y="1190.40" width="875.90" height="404.00"/></clipPath>
<polyline points="154.00,1535.15 156.11,1534.69 158.23,1534.22 160.34,1533.75 162.46,1533.27 164.57,1532.79 166.68,1532.30 168.80,1531.80 170.91,1531.30 173.02,1530.79 175.14,1530.27 177.25,1529.75 179.37,1529.23 181.48,1528.69 183.59,1528.15 185.71,1527.61 187.82,1527.06 189.93,1526.50 192.05,1525.94 194.16,1525.37 196.28,1524.80 198.39,1524.22 200.50,1523.63 202.62,1523.04 204.73,1522.45 206.84,1521.85 208.96,1521.24 211.07,1520.63 213.19,1520.01 215.30,1519.39 217.41,1518.76 219.53,1518.13 221.64,1517.49 223.75,1516.85 225.87,1516.20 227.98,1515.55 230.10,1514.89 232.21,1514.23 234.32,1513.56 236.44,1512.89 238.55,1512.21 240.67,1511.53 242.78,1510.84 244.89,1510.15 247.01,1509.45 249.12,1508.75 251.23,1508.05 253.35,1507.34 255.46,1506.62 257.58,1505.91 259.69,1505.18 261.80,1504.46 263.92,1503.72 266.03,1502.99 268.14,1502.25 270.26,1501.50 272.37,1500.76 274.49,1500.00 276.60,1499.25 278.71,1498.49 280.83,1497.72 282.94,1496.96 285.05,1496.18 287.17,1495.41 289.28,1494.63 291.40,1493.84 293.51,1493.06 295.62,1492.27 297.74,1491.47 299.85,1490.67 301.96,1489.87 304.08,1489.07 306.19,1488.26 308.31,1487.45 310.42,1486.63 312.53,1485.81 314.65,1484.99 316.76,1484.17 318.88,1483.34 320.99,1482.51 323.10,1481.67 325.22,1480.84 327.33,1480.00 329.44,1479.15 331.56,1478.31 333.67,1477.46 335.79,1476.60 337.90,1475.75 340.01,1474.89 342.13,1474.03 344.24,1473.17 346.35,1472.30 348.47,1471.43 350.58,1470.56 352.70,1469.69 354.81,1468.81 356.92,1467.93 359.04,1467.05 361.15,1466.17 363.26,1465.29 365.38,1464.40 367.49,1463.51 369.61,1462.62 371.72,1461.72 373.83,1460.83 375.95,1459.93 378.06,1459.03 380.17,1458.12 382.29,1457.22 384.40,1456.31 386.52,1455.41 388.63,1454.50 390.74,1453.58 392.86,1452.67 394.97,1451.76 397.09,1450.84 399.20,1449.92 401.31,1449.00 403.43,1448.08 405.54,1447.16 407.65,1446.23 409.77,1445.31 411.88,1444.38 414.00,1443.45 416.11,1442.52 418.22,1441.59 420.34,1440.66 422.45,1439.73 424.56,1438.80 426.68,1437.86 428.79,1436.92 430.91,1435.99 433.02,1435.05 435.13,1434.11 437.25,1433.17 439.36,1432.23 441.47,1431.29 443.59,1430.35 445.70,1429.41 447.82,1428.46 449.93,1427.52 452.04,1426.58 454.16,1425.63 456.27,1424.69 458.38,1423.74 460.50,1422.79 462.61,1421.85 464.73,1420.90 466.84,1419.96 468.95,1419.01 471.07,1418.06 473.18,1417.11 475.30,1416.17 477.41,1415.22 479.52,1414.27 481.64,1413.33 483.75,1412.38 485.86,1411.43 487.98,1410.48 490.09,1409.54 492.21,1408.59 494.32,1407.65 496.43,1406.70 498.55,1405.76 500.66,1404.81 502.77,1403.87 504.89,1402.92 507.00,1401.98 509.12,1401.04 511.23,1400.09 513.34,1399.15 515.46,1398.21 517.57,1397.27 519.68,1396.33 521.80,1395.40 523.91,1394.46 526.03,1393.52 528.14,1392.59 530.25,1391.65 532.37,1390.72 534.48,1389.79 536.59,1388.86 538.71,1387.93 540.82,1387.00 542.94,1386.07 545.05,1385.15 547.16,1384.22 549.28,1383.30 551.39,1382.38 553.51,1381.46 555.62,1380.54 557.73,1379.62 559.85,1378.70 561.96,1377.79 564.07,1376.88 566.19,1375.97 568.30,1375.06 570.42,1374.15 572.53,1373.25 574.64,1372.34 576.76,1371.44 578.87,1370.54 580.98,1369.65 583.10,1368.75 585.21,1367.86 587.33,1366.97 589.44,1366.08 591.55,1365.19 593.67,1364.31 595.78,1363.43 597.89,1362.55 600.01,1361.67 602.12,1360.80 604.24,1359.93 606.35,1359.06 608.46,1358.19 610.58,1357.33 612.69,1356.47 614.81,1355.61 616.92,1354.75 619.03,1353.90 621.15,1353.05 623.26,1352.20 625.37,1351.35 627.49,1350.51 629.60,1349.67 631.72,1348.83 633.83,1347.99 635.94,1347.16 638.06,1346.33 640.17,1345.51 642.28,1344.68 644.40,1343.86 646.51,1343.04 648.63,1342.23 650.74,1341.42 652.85,1340.61 654.97,1339.80 657.08,1338.99 659.19,1338.19 661.31,1337.40 663.42,1336.60 665.54,1335.81 667.65,1335.02 669.76,1334.23 671.88,1333.45 673.99,1332.67 676.10,1331.89 678.22,1331.12 680.33,1330.35 682.45,1329.58 684.56,1328.81 686.67,1328.05 688.79,1327.29 690.90,1326.54 693.02,1325.78 695.13,1325.04 697.24,1324.29 699.36,1323.55 701.47,1322.81 703.58,1322.07 705.70,1321.34 707.81,1320.61 709.93,1319.88 712.04,1319.16 714.15,1318.44 716.27,1317.72 718.38,1317.01 720.49,1316.30 722.61,1315.59 724.72,1314.89 726.84,1314.19 728.95,1313.49 731.06,1312.80 733.18,1312.11 735.29,1311.42 737.40,1310.74 739.52,1310.06 741.63,1309.38 743.75,1308.71 745.86,1308.04 747.97,1307.37 750.09,1306.71 752.20,1306.05 754.31,1305.40 756.43,1304.75 758.54,1304.10 760.66,1303.46 762.77,1302.82 764.88,1302.18 767.00,1301.55 769.11,1300.92 771.23,1300.29 773.34,1299.67 775.45,1299.05 777.57,1298.44 779.68,1297.83 781.79,1297.22 783.91,1296.62 786.02,1296.02 788.14,1295.42 790.25,1294.83 792.36,1294.25 794.48,1293.66 796.59,1293.08 798.70,1292.51 800.82,1291.93 802.93,1291.37 805.05,1290.80 807.16,1290.24 809.27,1289.68 811.39,1289.13 813.50,1288.58 815.61,1288.04 817.73,1287.50 819.84,1286.96 821.96,1286.43 824.07,1285.90 826.18,1285.38 828.30,1284.86 830.41,1284.34 832.52,1283.83 834.64,1283.32 836.75,1282.82 838.87,1282.32 840.98,1281.83 843.09,1281.34 845.21,1280.85 847.32,1280.37 849.44,1279.89 851.55,1279.42 853.66,1278.95 855.78,1278.48 857.89,1278.02 860.00,1277.56 862.12,1277.11 864.23,1276.66 866.35,1276.22 868.46,1275.78 870.57,1275.35 872.69,1274.92 874.80,1274.49 876.91,1274.07 879.03,1273.65 881.14,1273.24 883.26,1272.83 885.37,1272.43 887.48,1272.03 889.60,1271.64 891.71,1271.25 893.82,1270.86 895.94,1270.48 898.05,1270.10 900.17,1269.73 902.28,1269.37 904.39,1269.00 906.51,1268.65 908.62,1268.29 910.73,1267.94 912.85,1267.60 914.96,1267.26 917.08,1266.93 919.19,1266.60 921.30,1266.28 923.42,1265.96 925.53,1265.64 927.65,1265.33 929.76,1265.03 931.87,1264.72 933.99,1264.43 936.10,1264.14 938.21,1263.85 940.33,1263.57 942.44,1263.30 944.56,1263.02 946.67,1262.76 948.78,1262.50 950.90,1262.24 953.01,1261.99 955.12,1261.74 957.24,1261.50 959.35,1261.27 961.47,1261.04 963.58,1260.81 965.69,1260.59 967.81,1260.37 969.92,1260.16 972.03,1259.96 974.15,1259.76 976.26,1259.56 978.38,1259.37 980.49,1259.18 982.60,1259.00 984.72,1258.83 986.83,1258.66 988.94,1258.50 991.06,1258.34 993.17,1258.18 995.29,1258.04 997.40,1257.89" fill="none" stroke="#3A53A4" stroke-width="3.40" stroke-linejoin="round" stroke-linecap="round" clip-path="url(#cc)" stroke-dasharray="0.01 12.75" stroke-dashoffset="0"/>
<polyline points="154.00,1551.58 156.11,1551.33 158.23,1551.08 160.34,1550.82 162.46,1550.55 164.57,1550.27 166.68,1549.99 168.80,1549.70 170.91,1549.41 173.02,1549.10 175.14,1548.79 177.25,1548.48 179.37,1548.15 181.48,1547.82 183.59,1547.48 185.71,1547.14 187.82,1546.79 189.93,1546.43 192.05,1546.06 194.16,1545.69 196.28,1545.31 198.39,1544.93 200.50,1544.53 202.62,1544.13 204.73,1543.73 206.84,1543.32 208.96,1542.90 211.07,1542.47 213.19,1542.04 215.30,1541.61 217.41,1541.16 219.53,1540.71 221.64,1540.25 223.75,1539.79 225.87,1539.32 227.98,1538.85 230.10,1538.36 232.21,1537.87 234.32,1537.38 236.44,1536.88 238.55,1536.37 240.67,1535.86 242.78,1535.34 244.89,1534.82 247.01,1534.28 249.12,1533.75 251.23,1533.20 253.35,1532.65 255.46,1532.10 257.58,1531.54 259.69,1530.97 261.80,1530.40 263.92,1529.82 266.03,1529.24 268.14,1528.65 270.26,1528.05 272.37,1527.45 274.49,1526.84 276.60,1526.23 278.71,1525.61 280.83,1524.99 282.94,1524.36 285.05,1523.72 287.17,1523.08 289.28,1522.44 291.40,1521.79 293.51,1521.13 295.62,1520.47 297.74,1519.80 299.85,1519.13 301.96,1518.45 304.08,1517.77 306.19,1517.08 308.31,1516.38 310.42,1515.68 312.53,1514.98 314.65,1514.27 316.76,1513.56 318.88,1512.84 320.99,1512.11 323.10,1511.38 325.22,1510.65 327.33,1509.91 329.44,1509.17 331.56,1508.42 333.67,1507.66 335.79,1506.90 337.90,1506.14 340.01,1505.37 342.13,1504.60 344.24,1503.82 346.35,1503.04 348.47,1502.25 350.58,1501.46 352.70,1500.66 354.81,1499.86 356.92,1499.05 359.04,1498.24 361.15,1497.43 363.26,1496.61 365.38,1495.78 367.49,1494.96 369.61,1494.12 371.72,1493.29 373.83,1492.44 375.95,1491.60 378.06,1490.75 380.17,1489.89 382.29,1489.04 384.40,1488.17 386.52,1487.31 388.63,1486.43 390.74,1485.56 392.86,1484.68 394.97,1483.80 397.09,1482.91 399.20,1482.02 401.31,1481.12 403.43,1480.22 405.54,1479.32 407.65,1478.41 409.77,1477.50 411.88,1476.59 414.00,1475.67 416.11,1474.75 418.22,1473.82 420.34,1472.89 422.45,1471.96 424.56,1471.02 426.68,1470.08 428.79,1469.13 430.91,1468.19 433.02,1467.24 435.13,1466.28 437.25,1465.32 439.36,1464.36 441.47,1463.39 443.59,1462.42 445.70,1461.45 447.82,1460.48 449.93,1459.50 452.04,1458.52 454.16,1457.53 456.27,1456.54 458.38,1455.55 460.50,1454.55 462.61,1453.56 464.73,1452.56 466.84,1451.55 468.95,1450.54 471.07,1449.53 473.18,1448.52 475.30,1447.50 477.41,1446.48 479.52,1445.46 481.64,1444.44 483.75,1443.41 485.86,1442.38 487.98,1441.35 490.09,1440.31 492.21,1439.27 494.32,1438.23 496.43,1437.19 498.55,1436.14 500.66,1435.09 502.77,1434.04 504.89,1432.98 507.00,1431.93 509.12,1430.87 511.23,1429.81 513.34,1428.74 515.46,1427.67 517.57,1426.61 519.68,1425.53 521.80,1424.46 523.91,1423.39 526.03,1422.31 528.14,1421.23 530.25,1420.15 532.37,1419.06 534.48,1417.97 536.59,1416.89 538.71,1415.80 540.82,1414.70 542.94,1413.61 545.05,1412.51 547.16,1411.41 549.28,1410.31 551.39,1409.21 553.51,1408.11 555.62,1407.00 557.73,1405.89 559.85,1404.78 561.96,1403.67 564.07,1402.56 566.19,1401.45 568.30,1400.33 570.42,1399.21 572.53,1398.10 574.64,1396.97 576.76,1395.85 578.87,1394.73 580.98,1393.60 583.10,1392.48 585.21,1391.35 587.33,1390.22 589.44,1389.09 591.55,1387.96 593.67,1386.83 595.78,1385.69 597.89,1384.56 600.01,1383.42 602.12,1382.28 604.24,1381.15 606.35,1380.01 608.46,1378.87 610.58,1377.72 612.69,1376.58 614.81,1375.44 616.92,1374.29 619.03,1373.15 621.15,1372.00 623.26,1370.86 625.37,1369.71 627.49,1368.56 629.60,1367.41 631.72,1366.26 633.83,1365.11 635.94,1363.96 638.06,1362.81 640.17,1361.65 642.28,1360.50 644.40,1359.35 646.51,1358.19 648.63,1357.04 650.74,1355.88 652.85,1354.73 654.97,1353.57 657.08,1352.42 659.19,1351.26 661.31,1350.10 663.42,1348.95 665.54,1347.79 667.65,1346.63 669.76,1345.47 671.88,1344.31 673.99,1343.16 676.10,1342.00 678.22,1340.84 680.33,1339.68 682.45,1338.52 684.56,1337.36 686.67,1336.20 688.79,1335.04 690.90,1333.89 693.02,1332.73 695.13,1331.57 697.24,1330.41 699.36,1329.25 701.47,1328.09 703.58,1326.94 705.70,1325.78 707.81,1324.62 709.93,1323.47 712.04,1322.31 714.15,1321.15 716.27,1320.00 718.38,1318.84 720.49,1317.69 722.61,1316.53 724.72,1315.38 726.84,1314.23 728.95,1313.07 731.06,1311.92 733.18,1310.77 735.29,1309.62 737.40,1308.47 739.52,1307.32 741.63,1306.17 743.75,1305.02 745.86,1303.87 747.97,1302.73 750.09,1301.58 752.20,1300.44 754.31,1299.29 756.43,1298.15 758.54,1297.01 760.66,1295.87 762.77,1294.73 764.88,1293.59 767.00,1292.45 769.11,1291.31 771.23,1290.18 773.34,1289.04 775.45,1287.91 777.57,1286.77 779.68,1285.64 781.79,1284.51 783.91,1283.38 786.02,1282.26 788.14,1281.13 790.25,1280.01 792.36,1278.88 794.48,1277.76 796.59,1276.64 798.70,1275.52 800.82,1274.40 802.93,1273.29 805.05,1272.17 807.16,1271.06 809.27,1269.95 811.39,1268.84 813.50,1267.73 815.61,1266.63 817.73,1265.52 819.84,1264.42 821.96,1263.32 824.07,1262.22 826.18,1261.12 828.30,1260.03 830.41,1258.93 832.52,1257.84 834.64,1256.75 836.75,1255.66 838.87,1254.58 840.98,1253.49 843.09,1252.41 845.21,1251.33 847.32,1250.25 849.44,1249.18 851.55,1248.11 853.66,1247.03 855.78,1245.97 857.89,1244.90 860.00,1243.84 862.12,1242.77 864.23,1241.71 866.35,1240.66 868.46,1239.60 870.57,1238.55 872.69,1237.50 874.80,1236.45 876.91,1235.41 879.03,1234.36 881.14,1233.32 883.26,1232.28 885.37,1231.25 887.48,1230.22 889.60,1229.19 891.71,1228.16 893.82,1227.14 895.94,1226.11 898.05,1225.10 900.17,1224.08 902.28,1223.07 904.39,1222.06 906.51,1221.05 908.62,1220.04 910.73,1219.04 912.85,1218.04 914.96,1217.05 917.08,1216.06 919.19,1215.07 921.30,1214.08 923.42,1213.10 925.53,1212.12 927.65,1211.14 929.76,1210.16 931.87,1209.19 933.99,1208.23 936.10,1207.26 938.21,1206.30 940.33,1205.34 942.44,1204.39 944.56,1203.44 946.67,1202.49 948.78,1201.55 950.90,1200.61 953.01,1199.67 955.12,1198.73 957.24,1197.80 959.35,1196.88 961.47,1195.96 963.58,1195.04 965.69,1194.12 967.81,1193.21 969.92,1192.30 972.03,1191.40 974.15,1190.49 976.26,1189.60 978.38,1188.70 980.49,1187.81 982.60,1186.93 984.72,1186.05 986.83,1185.17 988.94,1184.30 991.06,1183.43 993.17,1182.56 995.29,1181.70 997.40,1180.84" fill="none" stroke="#ED1C24" stroke-width="3.40" stroke-linejoin="round" stroke-linecap="round" clip-path="url(#cc)" stroke-dasharray="0.01 12.75" stroke-dashoffset="0"/>
<polyline points="154.00,1547.28 156.11,1546.99 158.23,1546.69 160.34,1546.39 162.46,1546.09 164.57,1545.78 166.68,1545.48 168.80,1545.17 170.91,1544.85 173.02,1544.53 175.14,1544.21 177.25,1543.89 179.37,1543.57 181.48,1543.24 183.59,1542.91 185.71,1542.57 187.82,1542.24 189.93,1541.90 192.05,1541.56 194.16,1541.21 196.28,1540.86 198.39,1540.51 200.50,1540.16 202.62,1539.81 204.73,1539.45 206.84,1539.09 208.96,1538.72 211.07,1538.36 213.19,1537.99 215.30,1537.62 217.41,1537.25 219.53,1536.87 221.64,1536.49 223.75,1536.11 225.87,1535.73 227.98,1535.35 230.10,1534.96 232.21,1534.57 234.32,1534.18 236.44,1533.78 238.55,1533.39 240.67,1532.99 242.78,1532.59 244.89,1532.19 247.01,1531.78 249.12,1531.38 251.23,1530.97 253.35,1530.56 255.46,1530.14 257.58,1529.73 259.69,1529.31 261.80,1528.89 263.92,1528.47 266.03,1528.05 268.14,1527.62 270.26,1527.20 272.37,1526.77 274.49,1526.34 276.60,1525.91 278.71,1525.47 280.83,1525.04 282.94,1524.60 285.05,1524.16 287.17,1523.72 289.28,1523.28 291.40,1522.83 293.51,1522.39 295.62,1521.94 297.74,1521.49 299.85,1521.04 301.96,1520.59 304.08,1520.14 306.19,1519.68 308.31,1519.23 310.42,1518.77 312.53,1518.31 314.65,1517.85 316.76,1517.39 318.88,1516.93 320.99,1516.46 323.10,1516.00 325.22,1515.53 327.33,1515.06 329.44,1514.59 331.56,1514.12 333.67,1513.65 335.79,1513.18 337.90,1512.70 340.01,1512.23 342.13,1511.75 344.24,1511.27 346.35,1510.80 348.47,1510.32 350.58,1509.84 352.70,1509.35 354.81,1508.87 356.92,1508.39 359.04,1507.91 361.15,1507.42 363.26,1506.93 365.38,1506.45 367.49,1505.96 369.61,1505.47 371.72,1504.98 373.83,1504.49 375.95,1504.00 378.06,1503.51 380.17,1503.02 382.29,1502.53 384.40,1502.04 386.52,1501.54 388.63,1501.05 390.74,1500.55 392.86,1500.06 394.97,1499.56 397.09,1499.07 399.20,1498.57 401.31,1498.07 403.43,1497.58 405.54,1497.08 407.65,1496.58 409.77,1496.08 411.88,1495.58 414.00,1495.08 416.11,1494.58 418.22,1494.08 420.34,1493.58 422.45,1493.08 424.56,1492.58 426.68,1492.08 428.79,1491.58 430.91,1491.08 433.02,1490.58 435.13,1490.08 437.25,1489.58 439.36,1489.08 441.47,1488.58 443.59,1488.08 445.70,1487.58 447.82,1487.08 449.93,1486.58 452.04,1486.08 454.16,1485.58 456.27,1485.08 458.38,1484.58 460.50,1484.08 462.61,1483.58 464.73,1483.08 466.84,1482.58 468.95,1482.08 471.07,1481.58 473.18,1481.08 475.30,1480.59 477.41,1480.09 479.52,1479.59 481.64,1479.10 483.75,1478.60 485.86,1478.10 487.98,1477.61 490.09,1477.12 492.21,1476.62 494.32,1476.13 496.43,1475.64 498.55,1475.14 500.66,1474.65 502.77,1474.16 504.89,1473.67 507.00,1473.18 509.12,1472.70 511.23,1472.21 513.34,1471.72 515.46,1471.23 517.57,1470.75 519.68,1470.27 521.80,1469.78 523.91,1469.30 526.03,1468.82 528.14,1468.34 530.25,1467.86 532.37,1467.38 534.48,1466.90 536.59,1466.43 538.71,1465.95 540.82,1465.48 542.94,1465.00 545.05,1464.53 547.16,1464.06 549.28,1463.59 551.39,1463.12 553.51,1462.65 555.62,1462.19 557.73,1461.72 559.85,1461.26 561.96,1460.80 564.07,1460.34 566.19,1459.88 568.30,1459.42 570.42,1458.96 572.53,1458.51 574.64,1458.05 576.76,1457.60 578.87,1457.15 580.98,1456.70 583.10,1456.25 585.21,1455.81 587.33,1455.36 589.44,1454.92 591.55,1454.48 593.67,1454.04 595.78,1453.60 597.89,1453.17 600.01,1452.73 602.12,1452.30 604.24,1451.87 606.35,1451.44 608.46,1451.01 610.58,1450.59 612.69,1450.16 614.81,1449.74 616.92,1449.32 619.03,1448.91 621.15,1448.49 623.26,1448.08 625.37,1447.67 627.49,1447.26 629.60,1446.85 631.72,1446.44 633.83,1446.04 635.94,1445.64 638.06,1445.24 640.17,1444.84 642.28,1444.45 644.40,1444.06 646.51,1443.67 648.63,1443.28 650.74,1442.89 652.85,1442.51 654.97,1442.13 657.08,1441.75 659.19,1441.37 661.31,1441.00 663.42,1440.63 665.54,1440.26 667.65,1439.89 669.76,1439.53 671.88,1439.17 673.99,1438.81 676.10,1438.45 678.22,1438.10 680.33,1437.75 682.45,1437.40 684.56,1437.06 686.67,1436.71 688.79,1436.37 690.90,1436.04 693.02,1435.70 695.13,1435.37 697.24,1435.04 699.36,1434.71 701.47,1434.39 703.58,1434.07 705.70,1433.75 707.81,1433.44 709.93,1433.13 712.04,1432.82 714.15,1432.51 716.27,1432.21 718.38,1431.91 720.49,1431.61 722.61,1431.32 724.72,1431.03 726.84,1430.74 728.95,1430.46 731.06,1430.18 733.18,1429.90 735.29,1429.62 737.40,1429.35 739.52,1429.08 741.63,1428.82 743.75,1428.56 745.86,1428.30 747.97,1428.04 750.09,1427.79 752.20,1427.55 754.31,1427.30 756.43,1427.06 758.54,1426.82 760.66,1426.59 762.77,1426.36 764.88,1426.13 767.00,1425.91 769.11,1425.69 771.23,1425.47 773.34,1425.26 775.45,1425.05 777.57,1424.84 779.68,1424.64 781.79,1424.44 783.91,1424.25 786.02,1424.06 788.14,1423.87 790.25,1423.69 792.36,1423.51 794.48,1423.34 796.59,1423.17 798.70,1423.00 800.82,1422.84 802.93,1422.68 805.05,1422.52 807.16,1422.37 809.27,1422.22 811.39,1422.08 813.50,1421.94 815.61,1421.81 817.73,1421.67 819.84,1421.55 821.96,1421.43 824.07,1421.31 826.18,1421.19 828.30,1421.08 830.41,1420.98 832.52,1420.88 834.64,1420.78 836.75,1420.69 838.87,1420.60 840.98,1420.51 843.09,1420.44 845.21,1420.36 847.32,1420.29 849.44,1420.22 851.55,1420.16 853.66,1420.10 855.78,1420.05 857.89,1420.00 860.00,1419.96 862.12,1419.92 864.23,1419.89 866.35,1419.86 868.46,1419.83 870.57,1419.81 872.69,1419.80 874.80,1419.79 876.91,1419.78 879.03,1419.78 881.14,1419.78 883.26,1419.79 885.37,1419.81 887.48,1419.82 889.60,1419.85 891.71,1419.88 893.82,1419.91 895.94,1419.95 898.05,1419.99 900.17,1420.04 902.28,1420.09 904.39,1420.15 906.51,1420.21 908.62,1420.28 910.73,1420.35 912.85,1420.43 914.96,1420.52 917.08,1420.61 919.19,1420.70 921.30,1420.80 923.42,1420.91 925.53,1421.02 927.65,1421.13 929.76,1421.25 931.87,1421.38 933.99,1421.51 936.10,1421.65 938.21,1421.79 940.33,1421.94 942.44,1422.09 944.56,1422.25 946.67,1422.42 948.78,1422.59 950.90,1422.76 953.01,1422.94 955.12,1423.13 957.24,1423.32 959.35,1423.52 961.47,1423.73 963.58,1423.93 965.69,1424.15 967.81,1424.37 969.92,1424.60 972.03,1424.83 974.15,1425.07 976.26,1425.31 978.38,1425.57 980.49,1425.82 982.60,1426.08 984.72,1426.35 986.83,1426.63 988.94,1426.91 991.06,1427.19 993.17,1427.49 995.29,1427.78 997.40,1428.09" fill="none" stroke="#3A53A4" stroke-width="3.30" stroke-linejoin="round" stroke-linecap="round" clip-path="url(#cc)" stroke-dasharray="9.0 16.4" stroke-dashoffset="-1.9"/>
<polyline points="154.00,1556.32 156.11,1556.08 158.23,1555.84 160.34,1555.60 162.46,1555.35 164.57,1555.10 166.68,1554.85 168.80,1554.59 170.91,1554.33 173.02,1554.07 175.14,1553.80 177.25,1553.53 179.37,1553.26 181.48,1552.98 183.59,1552.70 185.71,1552.42 187.82,1552.13 189.93,1551.85 192.05,1551.55 194.16,1551.26 196.28,1550.96 198.39,1550.66 200.50,1550.35 202.62,1550.04 204.73,1549.73 206.84,1549.42 208.96,1549.10 211.07,1548.78 213.19,1548.46 215.30,1548.14 217.41,1547.81 219.53,1547.48 221.64,1547.14 223.75,1546.81 225.87,1546.47 227.98,1546.13 230.10,1545.78 232.21,1545.43 234.32,1545.08 236.44,1544.73 238.55,1544.38 240.67,1544.02 242.78,1543.66 244.89,1543.29 247.01,1542.93 249.12,1542.56 251.23,1542.19 253.35,1541.82 255.46,1541.44 257.58,1541.07 259.69,1540.69 261.80,1540.30 263.92,1539.92 266.03,1539.53 268.14,1539.14 270.26,1538.75 272.37,1538.36 274.49,1537.96 276.60,1537.56 278.71,1537.16 280.83,1536.76 282.94,1536.36 285.05,1535.95 287.17,1535.54 289.28,1535.13 291.40,1534.72 293.51,1534.30 295.62,1533.89 297.74,1533.47 299.85,1533.05 301.96,1532.63 304.08,1532.20 306.19,1531.77 308.31,1531.35 310.42,1530.92 312.53,1530.49 314.65,1530.05 316.76,1529.62 318.88,1529.18 320.99,1528.74 323.10,1528.30 325.22,1527.86 327.33,1527.42 329.44,1526.97 331.56,1526.53 333.67,1526.08 335.79,1525.63 337.90,1525.18 340.01,1524.72 342.13,1524.27 344.24,1523.81 346.35,1523.36 348.47,1522.90 350.58,1522.44 352.70,1521.98 354.81,1521.52 356.92,1521.05 359.04,1520.59 361.15,1520.12 363.26,1519.65 365.38,1519.19 367.49,1518.72 369.61,1518.25 371.72,1517.77 373.83,1517.30 375.95,1516.83 378.06,1516.35 380.17,1515.88 382.29,1515.40 384.40,1514.92 386.52,1514.44 388.63,1513.96 390.74,1513.48 392.86,1513.00 394.97,1512.52 397.09,1512.03 399.20,1511.55 401.31,1511.06 403.43,1510.58 405.54,1510.09 407.65,1509.60 409.77,1509.12 411.88,1508.63 414.00,1508.14 416.11,1507.65 418.22,1507.16 420.34,1506.67 422.45,1506.17 424.56,1505.68 426.68,1505.19 428.79,1504.70 430.91,1504.20 433.02,1503.71 435.13,1503.21 437.25,1502.72 439.36,1502.22 441.47,1501.73 443.59,1501.23 445.70,1500.73 447.82,1500.24 449.93,1499.74 452.04,1499.24 454.16,1498.75 456.27,1498.25 458.38,1497.75 460.50,1497.25 462.61,1496.76 464.73,1496.26 466.84,1495.76 468.95,1495.26 471.07,1494.76 473.18,1494.26 475.30,1493.77 477.41,1493.27 479.52,1492.77 481.64,1492.27 483.75,1491.78 485.86,1491.28 487.98,1490.78 490.09,1490.28 492.21,1489.79 494.32,1489.29 496.43,1488.79 498.55,1488.30 500.66,1487.80 502.77,1487.31 504.89,1486.81 507.00,1486.32 509.12,1485.82 511.23,1485.33 513.34,1484.83 515.46,1484.34 517.57,1483.85 519.68,1483.36 521.80,1482.86 523.91,1482.37 526.03,1481.88 528.14,1481.39 530.25,1480.90 532.37,1480.42 534.48,1479.93 536.59,1479.44 538.71,1478.95 540.82,1478.47 542.94,1477.98 545.05,1477.50 547.16,1477.02 549.28,1476.54 551.39,1476.05 553.51,1475.57 555.62,1475.09 557.73,1474.62 559.85,1474.14 561.96,1473.66 564.07,1473.19 566.19,1472.71 568.30,1472.24 570.42,1471.77 572.53,1471.29 574.64,1470.82 576.76,1470.35 578.87,1469.89 580.98,1469.42 583.10,1468.95 585.21,1468.49 587.33,1468.03 589.44,1467.57 591.55,1467.11 593.67,1466.65 595.78,1466.19 597.89,1465.73 600.01,1465.28 602.12,1464.83 604.24,1464.37 606.35,1463.92 608.46,1463.47 610.58,1463.03 612.69,1462.58 614.81,1462.14 616.92,1461.69 619.03,1461.25 621.15,1460.81 623.26,1460.38 625.37,1459.94 627.49,1459.51 629.60,1459.07 631.72,1458.64 633.83,1458.22 635.94,1457.79 638.06,1457.36 640.17,1456.94 642.28,1456.52 644.40,1456.10 646.51,1455.68 648.63,1455.27 650.74,1454.85 652.85,1454.44 654.97,1454.03 657.08,1453.62 659.19,1453.22 661.31,1452.81 663.42,1452.41 665.54,1452.01 667.65,1451.62 669.76,1451.22 671.88,1450.83 673.99,1450.44 676.10,1450.05 678.22,1449.67 680.33,1449.28 682.45,1448.90 684.56,1448.52 686.67,1448.15 688.79,1447.77 690.90,1447.40 693.02,1447.03 695.13,1446.66 697.24,1446.30 699.36,1445.94 701.47,1445.58 703.58,1445.22 705.70,1444.87 707.81,1444.52 709.93,1444.17 712.04,1443.82 714.15,1443.48 716.27,1443.14 718.38,1442.80 720.49,1442.47 722.61,1442.13 724.72,1441.80 726.84,1441.48 728.95,1441.15 731.06,1440.83 733.18,1440.52 735.29,1440.20 737.40,1439.89 739.52,1439.58 741.63,1439.27 743.75,1438.97 745.86,1438.67 747.97,1438.37 750.09,1438.08 752.20,1437.79 754.31,1437.50 756.43,1437.22 758.54,1436.93 760.66,1436.66 762.77,1436.38 764.88,1436.11 767.00,1435.84 769.11,1435.58 771.23,1435.31 773.34,1435.05 775.45,1434.80 777.57,1434.55 779.68,1434.30 781.79,1434.05 783.91,1433.81 786.02,1433.58 788.14,1433.34 790.25,1433.11 792.36,1432.88 794.48,1432.66 796.59,1432.44 798.70,1432.22 800.82,1432.01 802.93,1431.80 805.05,1431.59 807.16,1431.39 809.27,1431.20 811.39,1431.00 813.50,1430.81 815.61,1430.62 817.73,1430.44 819.84,1430.26 821.96,1430.09 824.07,1429.92 826.18,1429.75 828.30,1429.59 830.41,1429.43 832.52,1429.27 834.64,1429.12 836.75,1428.97 838.87,1428.83 840.98,1428.69 843.09,1428.56 845.21,1428.42 847.32,1428.30 849.44,1428.18 851.55,1428.06 853.66,1427.94 855.78,1427.83 857.89,1427.73 860.00,1427.63 862.12,1427.53 864.23,1427.44 866.35,1427.35 868.46,1427.27 870.57,1427.19 872.69,1427.11 874.80,1427.04 876.91,1426.98 879.03,1426.92 881.14,1426.86 883.26,1426.81 885.37,1426.76 887.48,1426.72 889.60,1426.68 891.71,1426.64 893.82,1426.62 895.94,1426.59 898.05,1426.57 900.17,1426.56 902.28,1426.55 904.39,1426.54 906.51,1426.54 908.62,1426.55 910.73,1426.56 912.85,1426.57 914.96,1426.59 917.08,1426.61 919.19,1426.64 921.30,1426.68 923.42,1426.72 925.53,1426.76 927.65,1426.81 929.76,1426.86 931.87,1426.92 933.99,1426.99 936.10,1427.06 938.21,1427.13 940.33,1427.21 942.44,1427.30 944.56,1427.39 946.67,1427.48 948.78,1427.58 950.90,1427.69 953.01,1427.80 955.12,1427.92 957.24,1428.04 959.35,1428.17 961.47,1428.30 963.58,1428.44 965.69,1428.59 967.81,1428.74 969.92,1428.89 972.03,1429.05 974.15,1429.22 976.26,1429.39 978.38,1429.57 980.49,1429.75 982.60,1429.94 984.72,1430.14 986.83,1430.34 988.94,1430.54 991.06,1430.76 993.17,1430.97 995.29,1431.20 997.40,1431.43" fill="none" stroke="#ED1C24" stroke-width="3.30" stroke-linejoin="round" stroke-linecap="round" clip-path="url(#cc)" stroke-dasharray="9.0 16.4" stroke-dashoffset="-1.9"/>
<polyline points="154.00,1547.11 156.11,1546.81 158.23,1546.50 160.34,1546.20 162.46,1545.89 164.57,1545.57 166.68,1545.26 168.80,1544.94 170.91,1544.62 173.02,1544.30 175.14,1543.97 177.25,1543.65 179.37,1543.32 181.48,1542.98 183.59,1542.65 185.71,1542.31 187.82,1541.97 189.93,1541.63 192.05,1541.29 194.16,1540.94 196.28,1540.59 198.39,1540.24 200.50,1539.88 202.62,1539.53 204.73,1539.17 206.84,1538.81 208.96,1538.44 211.07,1538.08 213.19,1537.71 215.30,1537.34 217.41,1536.97 219.53,1536.60 221.64,1536.22 223.75,1535.84 225.87,1535.46 227.98,1535.08 230.10,1534.70 232.21,1534.31 234.32,1533.92 236.44,1533.53 238.55,1533.14 240.67,1532.74 242.78,1532.35 244.89,1531.95 247.01,1531.55 249.12,1531.15 251.23,1530.74 253.35,1530.34 255.46,1529.93 257.58,1529.52 259.69,1529.11 261.80,1528.70 263.92,1528.28 266.03,1527.87 268.14,1527.45 270.26,1527.03 272.37,1526.61 274.49,1526.19 276.60,1525.76 278.71,1525.33 280.83,1524.91 282.94,1524.48 285.05,1524.05 287.17,1523.61 289.28,1523.18 291.40,1522.74 293.51,1522.31 295.62,1521.87 297.74,1521.43 299.85,1520.99 301.96,1520.55 304.08,1520.10 306.19,1519.66 308.31,1519.21 310.42,1518.76 312.53,1518.31 314.65,1517.86 316.76,1517.41 318.88,1516.95 320.99,1516.50 323.10,1516.04 325.22,1515.59 327.33,1515.13 329.44,1514.67 331.56,1514.21 333.67,1513.75 335.79,1513.28 337.90,1512.82 340.01,1512.36 342.13,1511.89 344.24,1511.42 346.35,1510.95 348.47,1510.48 350.58,1510.01 352.70,1509.54 354.81,1509.07 356.92,1508.60 359.04,1508.12 361.15,1507.65 363.26,1507.17 365.38,1506.70 367.49,1506.22 369.61,1505.74 371.72,1505.26 373.83,1504.78 375.95,1504.30 378.06,1503.82 380.17,1503.34 382.29,1502.86 384.40,1502.37 386.52,1501.89 388.63,1501.41 390.74,1500.92 392.86,1500.43 394.97,1499.95 397.09,1499.46 399.20,1498.97 401.31,1498.49 403.43,1498.00 405.54,1497.51 407.65,1497.02 409.77,1496.53 411.88,1496.04 414.00,1495.55 416.11,1495.06 418.22,1494.56 420.34,1494.07 422.45,1493.58 424.56,1493.09 426.68,1492.59 428.79,1492.10 430.91,1491.61 433.02,1491.11 435.13,1490.62 437.25,1490.12 439.36,1489.63 441.47,1489.13 443.59,1488.64 445.70,1488.14 447.82,1487.65 449.93,1487.15 452.04,1486.66 454.16,1486.16 456.27,1485.67 458.38,1485.17 460.50,1484.68 462.61,1484.18 464.73,1483.68 466.84,1483.19 468.95,1482.69 471.07,1482.20 473.18,1481.70 475.30,1481.21 477.41,1480.71 479.52,1480.22 481.64,1479.72 483.75,1479.23 485.86,1478.73 487.98,1478.24 490.09,1477.75 492.21,1477.26 494.32,1476.77 496.43,1476.28 498.55,1475.80 500.66,1475.32 502.77,1474.84 504.89,1474.36 507.00,1473.88 509.12,1473.41 511.23,1472.94 513.34,1472.47 515.46,1472.01 517.57,1471.55 519.68,1471.10 521.80,1470.65 523.91,1470.20 526.03,1469.76 528.14,1469.32 530.25,1468.89 532.37,1468.46 534.48,1468.04 536.59,1467.62 538.71,1467.21 540.82,1466.81 542.94,1466.41 545.05,1466.02 547.16,1465.64 549.28,1465.26 551.39,1464.89 553.51,1464.52 555.62,1464.17 557.73,1463.82 559.85,1463.48 561.96,1463.14 564.07,1462.82 566.19,1462.50 568.30,1462.19 570.42,1461.90 572.53,1461.61 574.64,1461.33 576.76,1461.06 578.87,1460.79 580.98,1460.54 583.10,1460.30 585.21,1460.07 587.33,1459.85 589.44,1459.64 591.55,1459.44 593.67,1459.25 595.78,1459.08 597.89,1458.91 600.01,1458.76 602.12,1458.62 604.24,1458.49 606.35,1458.37 608.46,1458.27 610.58,1458.18 612.69,1458.10 614.81,1458.04 616.92,1457.98 619.03,1457.95 621.15,1457.92 623.26,1457.91 625.37,1457.91 627.49,1457.93 629.60,1457.97 631.72,1458.01 633.83,1458.08 635.94,1458.15 638.06,1458.25 640.17,1458.36 642.28,1458.48 644.40,1458.62 646.51,1458.78 648.63,1458.95 650.74,1459.14 652.85,1459.35 654.97,1459.57 657.08,1459.81 659.19,1460.07 661.31,1460.35 663.42,1460.64 665.54,1460.96 667.65,1461.29 669.76,1461.64 671.88,1462.00 673.99,1462.39 676.10,1462.80 678.22,1463.22 680.33,1463.67 682.45,1464.13 684.56,1464.62 686.67,1465.12 688.79,1465.64 690.90,1466.18 693.02,1466.74 695.13,1467.32 697.24,1467.92 699.36,1468.54 701.47,1469.18 703.58,1469.83 705.70,1470.51 707.81,1471.20 709.93,1471.91 712.04,1472.64 714.15,1473.38 716.27,1474.14 718.38,1474.93 720.49,1475.73 722.61,1476.54 724.72,1477.38 726.84,1478.23 728.95,1479.09 731.06,1479.98 733.18,1480.88 735.29,1481.80 737.40,1482.74 739.52,1483.69 741.63,1484.66 743.75,1485.64 745.86,1486.64 747.97,1487.66 750.09,1488.69 752.20,1489.74 754.31,1490.81 756.43,1491.89 758.54,1492.99 760.66,1494.10 762.77,1495.22 764.88,1496.37 767.00,1497.52 769.11,1498.69 771.23,1499.88 773.34,1501.08 775.45,1502.30 777.57,1503.53 779.68,1504.77 781.79,1506.03 783.91,1507.31 786.02,1508.60 788.14,1509.90 790.25,1511.21 792.36,1512.54 794.48,1513.88 796.59,1515.24 798.70,1516.61 800.82,1517.99 802.93,1519.39 805.05,1520.79 807.16,1522.21 809.27,1523.63 811.39,1525.06 813.50,1526.49 815.61,1527.92 817.73,1529.36 819.84,1530.79 821.96,1532.22 824.07,1533.65 826.18,1535.07 828.30,1536.48 830.41,1537.89 832.52,1539.28 834.64,1540.66 836.75,1542.02 838.87,1543.37 840.98,1544.70 843.09,1546.01 845.21,1547.30 847.32,1548.58 849.44,1549.83 851.55,1551.07 853.66,1552.28 855.78,1553.48 857.89,1554.66 860.00,1555.82 862.12,1556.96 864.23,1558.08 866.35,1559.18 868.46,1560.27 870.57,1561.33 872.69,1562.38 874.80,1563.41 876.91,1564.42 879.03,1565.41 881.14,1566.38 883.26,1567.33 885.37,1568.26 887.48,1569.18 889.60,1570.07 891.71,1570.95 893.82,1571.80 895.94,1572.64 898.05,1573.46 900.17,1574.26 902.28,1575.04 904.39,1575.81 906.51,1576.56 908.62,1577.29 910.73,1578.00 912.85,1578.71 914.96,1579.39 917.08,1580.07 919.19,1580.73 921.30,1581.38 923.42,1582.02 925.53,1582.64 927.65,1583.26 929.76,1583.87 931.87,1584.48 933.99,1585.07 936.10,1585.66 938.21,1586.24 940.33,1586.82 942.44,1587.39 944.56,1587.96 946.67,1588.53 948.78,1589.10 950.90,1589.66 953.01,1590.22 955.12,1590.79 957.24,1591.35 959.35,1591.92 961.47,1592.49 963.58,1593.06 965.69,1593.63 967.81,1594.21 969.92,1594.80 972.03,1595.39 974.15,1595.99 976.26,1596.59 978.38,1597.20 980.49,1597.83 982.60,1598.46 984.72,1599.10 986.83,1599.75 988.94,1600.41 991.06,1601.09 993.17,1601.77 995.29,1602.48 997.40,1603.19" fill="none" stroke="#3A53A4" stroke-width="6.50" stroke-linejoin="round" stroke-linecap="round" clip-path="url(#cc)"/>
<polyline points="154.00,1556.39 156.11,1556.14 158.23,1555.88 160.34,1555.62 162.46,1555.36 164.57,1555.10 166.68,1554.83 168.80,1554.56 170.91,1554.29 173.02,1554.02 175.14,1553.74 177.25,1553.46 179.37,1553.17 181.48,1552.89 183.59,1552.60 185.71,1552.31 187.82,1552.01 189.93,1551.72 192.05,1551.42 194.16,1551.11 196.28,1550.81 198.39,1550.50 200.50,1550.19 202.62,1549.88 204.73,1549.56 206.84,1549.25 208.96,1548.93 211.07,1548.60 213.19,1548.28 215.30,1547.95 217.41,1547.62 219.53,1547.29 221.64,1546.95 223.75,1546.61 225.87,1546.27 227.98,1545.93 230.10,1545.59 232.21,1545.24 234.32,1544.89 236.44,1544.54 238.55,1544.18 240.67,1543.83 242.78,1543.47 244.89,1543.11 247.01,1542.74 249.12,1542.38 251.23,1542.01 253.35,1541.64 255.46,1541.27 257.58,1540.89 259.69,1540.52 261.80,1540.14 263.92,1539.76 266.03,1539.37 268.14,1538.99 270.26,1538.60 272.37,1538.21 274.49,1537.82 276.60,1537.43 278.71,1537.03 280.83,1536.64 282.94,1536.24 285.05,1535.84 287.17,1535.43 289.28,1535.03 291.40,1534.62 293.51,1534.21 295.62,1533.80 297.74,1533.39 299.85,1532.98 301.96,1532.56 304.08,1532.14 306.19,1531.72 308.31,1531.30 310.42,1530.88 312.53,1530.45 314.65,1530.03 316.76,1529.60 318.88,1529.17 320.99,1528.73 323.10,1528.30 325.22,1527.87 327.33,1527.43 329.44,1526.99 331.56,1526.55 333.67,1526.11 335.79,1525.66 337.90,1525.22 340.01,1524.77 342.13,1524.33 344.24,1523.88 346.35,1523.42 348.47,1522.97 350.58,1522.52 352.70,1522.06 354.81,1521.61 356.92,1521.15 359.04,1520.69 361.15,1520.23 363.26,1519.76 365.38,1519.30 367.49,1518.84 369.61,1518.37 371.72,1517.90 373.83,1517.43 375.95,1516.96 378.06,1516.49 380.17,1516.02 382.29,1515.54 384.40,1515.07 386.52,1514.59 388.63,1514.11 390.74,1513.64 392.86,1513.16 394.97,1512.67 397.09,1512.19 399.20,1511.71 401.31,1511.22 403.43,1510.74 405.54,1510.25 407.65,1509.77 409.77,1509.28 411.88,1508.79 414.00,1508.30 416.11,1507.81 418.22,1507.31 420.34,1506.82 422.45,1506.32 424.56,1505.83 426.68,1505.33 428.79,1504.84 430.91,1504.34 433.02,1503.84 435.13,1503.34 437.25,1502.84 439.36,1502.34 441.47,1501.84 443.59,1501.33 445.70,1500.83 447.82,1500.33 449.93,1499.82 452.04,1499.32 454.16,1498.81 456.27,1498.30 458.38,1497.80 460.50,1497.29 462.61,1496.78 464.73,1496.27 466.84,1495.76 468.95,1495.25 471.07,1494.74 473.18,1494.23 475.30,1493.71 477.41,1493.20 479.52,1492.69 481.64,1492.17 483.75,1491.66 485.86,1491.15 487.98,1490.63 490.09,1490.12 492.21,1489.60 494.32,1489.09 496.43,1488.58 498.55,1488.06 500.66,1487.55 502.77,1487.04 504.89,1486.53 507.00,1486.02 509.12,1485.52 511.23,1485.01 513.34,1484.51 515.46,1484.00 517.57,1483.50 519.68,1483.00 521.80,1482.51 523.91,1482.01 526.03,1481.52 528.14,1481.03 530.25,1480.54 532.37,1480.05 534.48,1479.57 536.59,1479.09 538.71,1478.62 540.82,1478.14 542.94,1477.67 545.05,1477.21 547.16,1476.74 549.28,1476.29 551.39,1475.83 553.51,1475.38 555.62,1474.93 557.73,1474.49 559.85,1474.05 561.96,1473.62 564.07,1473.19 566.19,1472.76 568.30,1472.34 570.42,1471.93 572.53,1471.52 574.64,1471.11 576.76,1470.71 578.87,1470.32 580.98,1469.93 583.10,1469.55 585.21,1469.17 587.33,1468.80 589.44,1468.44 591.55,1468.08 593.67,1467.73 595.78,1467.38 597.89,1467.05 600.01,1466.71 602.12,1466.39 604.24,1466.07 606.35,1465.76 608.46,1465.46 610.58,1465.16 612.69,1464.87 614.81,1464.59 616.92,1464.32 619.03,1464.06 621.15,1463.80 623.26,1463.55 625.37,1463.31 627.49,1463.08 629.60,1462.86 631.72,1462.64 633.83,1462.44 635.94,1462.24 638.06,1462.06 640.17,1461.88 642.28,1461.71 644.40,1461.55 646.51,1461.40 648.63,1461.26 650.74,1461.13 652.85,1461.01 654.97,1460.90 657.08,1460.80 659.19,1460.71 661.31,1460.64 663.42,1460.57 665.54,1460.51 667.65,1460.46 669.76,1460.43 671.88,1460.41 673.99,1460.39 676.10,1460.39 678.22,1460.40 680.33,1460.43 682.45,1460.46 684.56,1460.51 686.67,1460.56 688.79,1460.63 690.90,1460.72 693.02,1460.81 695.13,1460.92 697.24,1461.04 699.36,1461.17 701.47,1461.32 703.58,1461.48 705.70,1461.65 707.81,1461.84 709.93,1462.04 712.04,1462.26 714.15,1462.49 716.27,1462.74 718.38,1463.00 720.49,1463.28 722.61,1463.57 724.72,1463.88 726.84,1464.21 728.95,1464.56 731.06,1464.93 733.18,1465.31 735.29,1465.71 737.40,1466.13 739.52,1466.57 741.63,1467.03 743.75,1467.51 745.86,1468.01 747.97,1468.54 750.09,1469.08 752.20,1469.64 754.31,1470.23 756.43,1470.84 758.54,1471.47 760.66,1472.13 762.77,1472.80 764.88,1473.50 767.00,1474.23 769.11,1474.98 771.23,1475.76 773.34,1476.56 775.45,1477.38 777.57,1478.23 779.68,1479.11 781.79,1480.02 783.91,1480.95 786.02,1481.91 788.14,1482.89 790.25,1483.91 792.36,1484.95 794.48,1486.02 796.59,1487.12 798.70,1488.26 800.82,1489.42 802.93,1490.61 805.05,1491.83 807.16,1493.08 809.27,1494.36 811.39,1495.68 813.50,1497.03 815.61,1498.41 817.73,1499.82 819.84,1501.27 821.96,1502.74 824.07,1504.25 826.18,1505.77 828.30,1507.29 830.41,1508.82 832.52,1510.34 834.64,1511.83 836.75,1513.30 838.87,1514.73 840.98,1516.11 843.09,1517.45 845.21,1518.75 847.32,1520.00 849.44,1521.23 851.55,1522.44 853.66,1523.62 855.78,1524.79 857.89,1525.96 860.00,1527.12 862.12,1528.29 864.23,1529.46 866.35,1530.64 868.46,1531.83 870.57,1533.02 872.69,1534.23 874.80,1535.44 876.91,1536.66 879.03,1537.89 881.14,1539.12 883.26,1540.36 885.37,1541.60 887.48,1542.84 889.60,1544.09 891.71,1545.34 893.82,1546.59 895.94,1547.84 898.05,1549.09 900.17,1550.34 902.28,1551.59 904.39,1552.83 906.51,1554.07 908.62,1555.31 910.73,1556.54 912.85,1557.76 914.96,1558.98 917.08,1560.19 919.19,1561.39 921.30,1562.58 923.42,1563.76 925.53,1564.93 927.65,1566.08 929.76,1567.23 931.87,1568.36 933.99,1569.48 936.10,1570.58 938.21,1571.66 940.33,1572.73 942.44,1573.78 944.56,1574.82 946.67,1575.83 948.78,1576.82 950.90,1577.80 953.01,1578.75 955.12,1579.68 957.24,1580.59 959.35,1581.47 961.47,1582.33 963.58,1583.16 965.69,1583.96 967.81,1584.74 969.92,1585.49 972.03,1586.21 974.15,1586.91 976.26,1587.57 978.38,1588.20 980.49,1588.80 982.60,1589.36 984.72,1589.90 986.83,1590.39 988.94,1590.86 991.06,1591.28 993.17,1591.67 995.29,1592.03 997.40,1592.34" fill="none" stroke="#ED1C24" stroke-width="6.50" stroke-linejoin="round" stroke-linecap="round" clip-path="url(#cc)"/>
<polyline points="154.00,1564.03 156.11,1563.69 158.23,1563.36 160.34,1563.02 162.46,1562.68 164.57,1562.34 166.68,1562.00 168.80,1561.65 170.91,1561.30 173.02,1560.96 175.14,1560.61 177.25,1560.25 179.37,1559.90 181.48,1559.54 183.59,1559.19 185.71,1558.82 187.82,1558.46 189.93,1558.10 192.05,1557.73 194.16,1557.36 196.28,1556.99 198.39,1556.61 200.50,1556.23 202.62,1555.85 204.73,1555.47 206.84,1555.08 208.96,1554.70 211.07,1554.30 213.19,1553.91 215.30,1553.51 217.41,1553.11 219.53,1552.71 221.64,1552.30 223.75,1551.89 225.87,1551.48 227.98,1551.06 230.10,1550.64 232.21,1550.22 234.32,1549.79 236.44,1549.36 238.55,1548.93 240.67,1548.49 242.78,1548.05 244.89,1547.60 247.01,1547.15 249.12,1546.70 251.23,1546.24 253.35,1545.78 255.46,1545.32 257.58,1544.85 259.69,1544.37 261.80,1543.90 263.92,1543.41 266.03,1542.93 268.14,1542.44 270.26,1541.94 272.37,1541.44 274.49,1540.94 276.60,1540.43 278.71,1539.92 280.83,1539.40 282.94,1538.87 285.05,1538.35 287.17,1537.81 289.28,1537.28 291.40,1536.73 293.51,1536.19 295.62,1535.63 297.74,1535.07 299.85,1534.51 301.96,1533.94 304.08,1533.37 306.19,1532.79 308.31,1532.20 310.42,1531.61 312.53,1531.02 314.65,1530.42 316.76,1529.81 318.88,1529.20 320.99,1528.58 323.10,1527.95 325.22,1527.32 327.33,1526.69 329.44,1526.04 331.56,1525.39 333.67,1524.74 335.79,1524.08 337.90,1523.41 340.01,1522.74 342.13,1522.06 344.24,1521.37 346.35,1520.68 348.47,1519.98 350.58,1519.27 352.70,1518.56 354.81,1517.84 356.92,1517.12 359.04,1516.38 361.15,1515.64 363.26,1514.90 365.38,1514.15 367.49,1513.39 369.61,1512.63 371.72,1511.86 373.83,1511.09 375.95,1510.32 378.06,1509.55 380.17,1508.78 382.29,1508.00 384.40,1507.23 386.52,1506.46 388.63,1505.69 390.74,1504.92 392.86,1504.15 394.97,1503.39 397.09,1502.64 399.20,1501.89 401.31,1501.14 403.43,1500.40 405.54,1499.67 407.65,1498.95 409.77,1498.23 411.88,1497.53 414.00,1496.83 416.11,1496.15 418.22,1495.47 420.34,1494.81 422.45,1494.16 424.56,1493.53 426.68,1492.91 428.79,1492.30 430.91,1491.71 433.02,1491.14 435.13,1490.58 437.25,1490.03 439.36,1489.49 441.47,1488.97 443.59,1488.45 445.70,1487.94 447.82,1487.44 449.93,1486.95 452.04,1486.46 454.16,1485.97 456.27,1485.49 458.38,1485.00 460.50,1484.52 462.61,1484.04 464.73,1483.55 466.84,1483.06 468.95,1482.58 471.07,1482.09 473.18,1481.60 475.30,1481.12 477.41,1480.63 479.52,1480.14 481.64,1479.66 483.75,1479.17 485.86,1478.69 487.98,1478.21 490.09,1477.73 492.21,1477.25 494.32,1476.77 496.43,1476.29 498.55,1475.82 500.66,1475.35 502.77,1474.88 504.89,1474.41 507.00,1473.95 509.12,1473.49 511.23,1473.03 513.34,1472.58 515.46,1472.12 517.57,1471.68 519.68,1471.24 521.80,1470.80 523.91,1470.36 526.03,1469.93 528.14,1469.51 530.25,1469.09 532.37,1468.67 534.48,1468.26 536.59,1467.86 538.71,1467.46 540.82,1467.07 542.94,1466.68 545.05,1466.30 547.16,1465.92 549.28,1465.56 551.39,1465.20 553.51,1464.84 555.62,1464.49 557.73,1464.16 559.85,1463.82 561.96,1463.50 564.07,1463.18 566.19,1462.87 568.30,1462.57 570.42,1462.28 572.53,1462.00 574.64,1461.72 576.76,1461.46 578.87,1461.20 580.98,1460.95 583.10,1460.72 585.21,1460.49 587.33,1460.27 589.44,1460.06 591.55,1459.86 593.67,1459.68 595.78,1459.50 597.89,1459.34 600.01,1459.18 602.12,1459.04 604.24,1458.90 606.35,1458.78 608.46,1458.68 610.58,1458.58 612.69,1458.49 614.81,1458.42 616.92,1458.36 619.03,1458.31 621.15,1458.28 623.26,1458.26 625.37,1458.25 627.49,1458.26 629.60,1458.28 631.72,1458.31 633.83,1458.36 635.94,1458.42 638.06,1458.49 640.17,1458.58 642.28,1458.69 644.40,1458.81 646.51,1458.94 648.63,1459.09 650.74,1459.26 652.85,1459.44 654.97,1459.63 657.08,1459.85 659.19,1460.08 661.31,1460.32 663.42,1460.58 665.54,1460.86 667.65,1461.16 669.76,1461.47 671.88,1461.80 673.99,1462.15 676.10,1462.51 678.22,1462.90 680.33,1463.30 682.45,1463.72 684.56,1464.16 686.67,1464.61 688.79,1465.08 690.90,1465.56 693.02,1466.06 695.13,1466.57 697.24,1467.09 699.36,1467.62 701.47,1468.16 703.58,1468.72 705.70,1469.28 707.81,1469.86 709.93,1470.45 712.04,1471.06 714.15,1471.68 716.27,1472.32 718.38,1472.97 720.49,1473.65 722.61,1474.34 724.72,1475.05 726.84,1475.78 728.95,1476.53 731.06,1477.29 733.18,1478.06 735.29,1478.84 737.40,1479.64 739.52,1480.44 741.63,1481.25 743.75,1482.06 745.86,1482.89 747.97,1483.71 750.09,1484.54 752.20,1485.37 754.31,1486.20 756.43,1487.03 758.54,1487.86 760.66,1488.69 762.77,1489.53 764.88,1490.36 767.00,1491.20 769.11,1492.04 771.23,1492.87 773.34,1493.71 775.45,1494.55 777.57,1495.40 779.68,1496.24 781.79,1497.08 783.91,1497.92 786.02,1498.77 788.14,1499.62 790.25,1500.46 792.36,1501.31 794.48,1502.16 796.59,1503.01 798.70,1503.86 800.82,1504.71 802.93,1505.56 805.05,1506.41 807.16,1507.26 809.27,1508.12 811.39,1508.97 813.50,1509.82 815.61,1510.68 817.73,1511.53 819.84,1512.39 821.96,1513.24 824.07,1514.10 826.18,1514.95 828.30,1515.81 830.41,1516.66 832.52,1517.52 834.64,1518.37 836.75,1519.23 838.87,1520.08 840.98,1520.94 843.09,1521.79 845.21,1522.64 847.32,1523.49 849.44,1524.35 851.55,1525.20 853.66,1526.05 855.78,1526.90 857.89,1527.75 860.00,1528.60 862.12,1529.44 864.23,1530.29 866.35,1531.13 868.46,1531.98 870.57,1532.82 872.69,1533.66 874.80,1534.50 876.91,1535.34 879.03,1536.18 881.14,1537.01 883.26,1537.85 885.37,1538.68 887.48,1539.51 889.60,1540.34 891.71,1541.17 893.82,1542.00 895.94,1542.82 898.05,1543.64 900.17,1544.46 902.28,1545.28 904.39,1546.09 906.51,1546.91 908.62,1547.72 910.73,1548.53 912.85,1549.33 914.96,1550.14 917.08,1550.94 919.19,1551.74 921.30,1552.53 923.42,1553.33 925.53,1554.12 927.65,1554.91 929.76,1555.69 931.87,1556.47 933.99,1557.25 936.10,1558.03 938.21,1558.80 940.33,1559.57 942.44,1560.34 944.56,1561.10 946.67,1561.86 948.78,1562.62 950.90,1563.37 953.01,1564.12 955.12,1564.87 957.24,1565.61 959.35,1566.35 961.47,1567.08 963.58,1567.81 965.69,1568.54 967.81,1569.26 969.92,1569.98 972.03,1570.70 974.15,1571.41 976.26,1572.12 978.38,1572.82 980.49,1573.52 982.60,1574.21 984.72,1574.90 986.83,1575.58 988.94,1576.27 991.06,1576.94 993.17,1577.61 995.29,1578.28 997.40,1578.94" fill="none" stroke="#3A53A4" stroke-width="3.30" stroke-linejoin="round" stroke-linecap="round" clip-path="url(#cc)"/>
<polyline points="154.00,1571.65 156.11,1571.43 158.23,1571.20 160.34,1570.97 162.46,1570.74 164.57,1570.51 166.68,1570.28 168.80,1570.05 170.91,1569.82 173.02,1569.58 175.14,1569.35 177.25,1569.11 179.37,1568.88 181.48,1568.64 183.59,1568.40 185.71,1568.16 187.82,1567.92 189.93,1567.67 192.05,1567.43 194.16,1567.18 196.28,1566.93 198.39,1566.68 200.50,1566.42 202.62,1566.17 204.73,1565.91 206.84,1565.65 208.96,1565.39 211.07,1565.12 213.19,1564.86 215.30,1564.59 217.41,1564.31 219.53,1564.04 221.64,1563.76 223.75,1563.48 225.87,1563.20 227.98,1562.91 230.10,1562.62 232.21,1562.33 234.32,1562.03 236.44,1561.73 238.55,1561.43 240.67,1561.13 242.78,1560.82 244.89,1560.50 247.01,1560.19 249.12,1559.87 251.23,1559.54 253.35,1559.21 255.46,1558.88 257.58,1558.54 259.69,1558.20 261.80,1557.86 263.92,1557.51 266.03,1557.16 268.14,1556.80 270.26,1556.44 272.37,1556.07 274.49,1555.70 276.60,1555.32 278.71,1554.94 280.83,1554.55 282.94,1554.16 285.05,1553.76 287.17,1553.36 289.28,1552.96 291.40,1552.54 293.51,1552.13 295.62,1551.70 297.74,1551.28 299.85,1550.84 301.96,1550.40 304.08,1549.96 306.19,1549.51 308.31,1549.05 310.42,1548.59 312.53,1548.12 314.65,1547.64 316.76,1547.16 318.88,1546.67 320.99,1546.18 323.10,1545.68 325.22,1545.17 327.33,1544.66 329.44,1544.14 331.56,1543.61 333.67,1543.08 335.79,1542.53 337.90,1541.99 340.01,1541.43 342.13,1540.87 344.24,1540.30 346.35,1539.72 348.47,1539.14 350.58,1538.55 352.70,1537.95 354.81,1537.34 356.92,1536.73 359.04,1536.11 361.15,1535.48 363.26,1534.84 365.38,1534.20 367.49,1533.55 369.61,1532.89 371.72,1532.22 373.83,1531.55 375.95,1530.87 378.06,1530.19 380.17,1529.50 382.29,1528.81 384.40,1528.11 386.52,1527.41 388.63,1526.70 390.74,1525.99 392.86,1525.27 394.97,1524.56 397.09,1523.84 399.20,1523.11 401.31,1522.39 403.43,1521.66 405.54,1520.93 407.65,1520.20 409.77,1519.46 411.88,1518.73 414.00,1517.99 416.11,1517.26 418.22,1516.52 420.34,1515.79 422.45,1515.05 424.56,1514.32 426.68,1513.58 428.79,1512.85 430.91,1512.12 433.02,1511.39 435.13,1510.67 437.25,1509.94 439.36,1509.22 441.47,1508.50 443.59,1507.79 445.70,1507.08 447.82,1506.37 449.93,1505.66 452.04,1504.97 454.16,1504.27 456.27,1503.58 458.38,1502.90 460.50,1502.22 462.61,1501.55 464.73,1500.88 466.84,1500.22 468.95,1499.57 471.07,1498.92 473.18,1498.27 475.30,1497.63 477.41,1497.00 479.52,1496.37 481.64,1495.74 483.75,1495.12 485.86,1494.51 487.98,1493.90 490.09,1493.29 492.21,1492.69 494.32,1492.09 496.43,1491.50 498.55,1490.91 500.66,1490.33 502.77,1489.74 504.89,1489.17 507.00,1488.59 509.12,1488.02 511.23,1487.46 513.34,1486.89 515.46,1486.33 517.57,1485.77 519.68,1485.22 521.80,1484.67 523.91,1484.12 526.03,1483.58 528.14,1483.03 530.25,1482.49 532.37,1481.95 534.48,1481.42 536.59,1480.88 538.71,1480.35 540.82,1479.82 542.94,1479.30 545.05,1478.77 547.16,1478.25 549.28,1477.72 551.39,1477.20 553.51,1476.68 555.62,1476.16 557.73,1475.65 559.85,1475.13 561.96,1474.62 564.07,1474.10 566.19,1473.59 568.30,1473.08 570.42,1472.57 572.53,1472.07 574.64,1471.56 576.76,1471.06 578.87,1470.57 580.98,1470.07 583.10,1469.58 585.21,1469.10 587.33,1468.62 589.44,1468.14 591.55,1467.67 593.67,1467.21 595.78,1466.75 597.89,1466.29 600.01,1465.85 602.12,1465.40 604.24,1464.97 606.35,1464.54 608.46,1464.12 610.58,1463.71 612.69,1463.31 614.81,1462.91 616.92,1462.53 619.03,1462.15 621.15,1461.78 623.26,1461.42 625.37,1461.07 627.49,1460.73 629.60,1460.41 631.72,1460.09 633.83,1459.78 635.94,1459.49 638.06,1459.20 640.17,1458.93 642.28,1458.67 644.40,1458.42 646.51,1458.19 648.63,1457.97 650.74,1457.76 652.85,1457.57 654.97,1457.38 657.08,1457.22 659.19,1457.07 661.31,1456.93 663.42,1456.81 665.54,1456.70 667.65,1456.61 669.76,1456.54 671.88,1456.48 673.99,1456.44 676.10,1456.41 678.22,1456.41 680.33,1456.42 682.45,1456.45 684.56,1456.49 686.67,1456.55 688.79,1456.64 690.90,1456.73 693.02,1456.85 695.13,1456.98 697.24,1457.13 699.36,1457.30 701.47,1457.48 703.58,1457.69 705.70,1457.90 707.81,1458.14 709.93,1458.39 712.04,1458.66 714.15,1458.94 716.27,1459.24 718.38,1459.56 720.49,1459.89 722.61,1460.24 724.72,1460.61 726.84,1460.99 728.95,1461.39 731.06,1461.80 733.18,1462.23 735.29,1462.68 737.40,1463.14 739.52,1463.62 741.63,1464.11 743.75,1464.62 745.86,1465.14 747.97,1465.68 750.09,1466.23 752.20,1466.80 754.31,1467.38 756.43,1467.98 758.54,1468.59 760.66,1469.22 762.77,1469.86 764.88,1470.52 767.00,1471.19 769.11,1471.88 771.23,1472.58 773.34,1473.29 775.45,1474.02 777.57,1474.76 779.68,1475.52 781.79,1476.29 783.91,1477.07 786.02,1477.87 788.14,1478.68 790.25,1479.51 792.36,1480.35 794.48,1481.20 796.59,1482.06 798.70,1482.94 800.82,1483.83 802.93,1484.74 805.05,1485.65 807.16,1486.58 809.27,1487.50 811.39,1488.44 813.50,1489.37 815.61,1490.31 817.73,1491.25 819.84,1492.18 821.96,1493.10 824.07,1494.02 826.18,1494.94 828.30,1495.85 830.41,1496.75 832.52,1497.65 834.64,1498.54 836.75,1499.43 838.87,1500.32 840.98,1501.20 843.09,1502.07 845.21,1502.94 847.32,1503.81 849.44,1504.67 851.55,1505.52 853.66,1506.38 855.78,1507.22 857.89,1508.07 860.00,1508.91 862.12,1509.75 864.23,1510.58 866.35,1511.41 868.46,1512.24 870.57,1513.07 872.69,1513.90 874.80,1514.72 876.91,1515.55 879.03,1516.38 881.14,1517.20 883.26,1518.03 885.37,1518.86 887.48,1519.70 889.60,1520.54 891.71,1521.38 893.82,1522.22 895.94,1523.07 898.05,1523.92 900.17,1524.78 902.28,1525.65 904.39,1526.52 906.51,1527.40 908.62,1528.28 910.73,1529.17 912.85,1530.06 914.96,1530.95 917.08,1531.85 919.19,1532.75 921.30,1533.65 923.42,1534.55 925.53,1535.46 927.65,1536.37 929.76,1537.28 931.87,1538.19 933.99,1539.10 936.10,1540.02 938.21,1540.93 940.33,1541.84 942.44,1542.75 944.56,1543.66 946.67,1544.57 948.78,1545.48 950.90,1546.38 953.01,1547.29 955.12,1548.19 957.24,1549.08 959.35,1549.98 961.47,1550.87 963.58,1551.75 965.69,1552.64 967.81,1553.51 969.92,1554.38 972.03,1555.25 974.15,1556.11 976.26,1556.97 978.38,1557.81 980.49,1558.66 982.60,1559.49 984.72,1560.32 986.83,1561.14 988.94,1561.95 991.06,1562.75 993.17,1563.54 995.29,1564.33 997.40,1565.10" fill="none" stroke="#ED1C24" stroke-width="3.30" stroke-linejoin="round" stroke-linecap="round" clip-path="url(#cc)"/>
<line x1="147.4" y1="1227.20" x2="197.4" y2="1227.20" stroke="#000" stroke-width="3.4" stroke-linecap="round" stroke-dasharray="0.01 12.83"/>
<line x1="147.4" y1="1267.80" x2="197.4" y2="1267.80" stroke="#000" stroke-width="3.3" stroke-linecap="round" stroke-dasharray="8.7 16.5"/>
<line x1="147.3" y1="1308.50" x2="197.5" y2="1308.50" stroke="#000" stroke-width="6.6" stroke-linecap="round"/>
<line x1="147.4" y1="1348.90" x2="197.4" y2="1348.90" stroke="#000" stroke-width="3.3" stroke-linecap="round"/>
<text x="224.85" y="1235.50" font-size="30" text-anchor="start" font-style="italic" fill="#231F20" >A</text>
<text x="245.70" y="1240.60" font-size="21" text-anchor="start" fill="#231F20" >c</text>
<text x="224.85" y="1276.00" font-size="30" text-anchor="start" font-style="italic" fill="#231F20" >A</text>
<text x="245.70" y="1281.10" font-size="21" text-anchor="start" fill="#231F20" >c</text>
<text x="224.85" y="1316.50" font-size="30" text-anchor="start" font-style="italic" fill="#231F20" >A</text>
<text x="245.70" y="1321.60" font-size="21" text-anchor="start" fill="#231F20" >c</text>
<text x="224.85" y="1357.00" font-size="30" text-anchor="start" font-style="italic" fill="#231F20" >A</text>
<text x="246.80" y="1362.10" font-size="21" text-anchor="start" fill="#231F20" >r</text>
<text x="264.40" y="1235.50" font-size="30" text-anchor="start" fill="#231F20" >0% O</text>
<text x="338.60" y="1240.60" font-size="21" text-anchor="start" fill="#231F20" >2</text>
<text x="265.00" y="1316.50" font-size="30" text-anchor="start" fill="#231F20" >Rubisco deactivation</text>
<text x="31.00" y="1533.30" font-size="30" text-anchor="start" font-style="italic" transform="rotate(-90 31.00 1533.30)" fill="#231F20" >A</text>
<text x="35.90" y="1510.80" font-size="21" text-anchor="start" transform="rotate(-90 35.90 1510.80)" fill="#231F20" >n</text>
<text x="31.00" y="1491.80" font-size="30" text-anchor="start" transform="rotate(-90 31.00 1491.80)" fill="#231F20" >(μmol CO</text>
<text x="36.00" y="1364.20" font-size="21" text-anchor="start" transform="rotate(-90 36.00 1364.20)" fill="#231F20" >2</text>
<text x="31.00" y="1344.80" font-size="30" text-anchor="start" transform="rotate(-90 31.00 1344.80)" fill="#231F20" >m</text>
<text x="15.50" y="1320.00" font-size="21" text-anchor="start" transform="rotate(-90 15.50 1320.00)" fill="#231F20" >2</text>
<text x="31.00" y="1300.70" font-size="30" text-anchor="start" transform="rotate(-90 31.00 1300.70)" fill="#231F20" >s</text>
<text x="15.50" y="1285.70" font-size="21" text-anchor="start" transform="rotate(-90 15.50 1285.70)" fill="#231F20" >−1</text>
<text x="31.00" y="1261.60" font-size="30" text-anchor="start" transform="rotate(-90 31.00 1261.60)" fill="#231F20" >)</text>
</svg>
</body></html>
